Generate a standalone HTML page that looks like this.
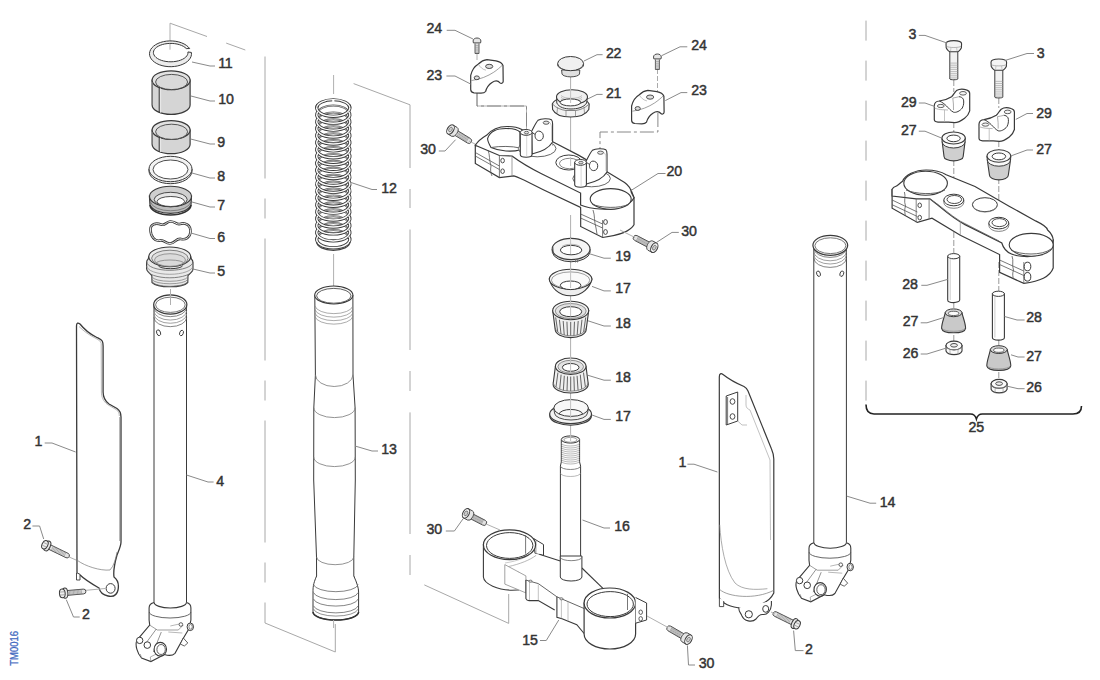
<!DOCTYPE html>
<html><head><meta charset="utf-8"><style>
html,body{margin:0;padding:0;background:#fff;}
body{width:1100px;height:680px;overflow:hidden;}
svg{display:block;}
text{font-family:"Liberation Sans",sans-serif;font-size:14.2px;font-weight:normal;letter-spacing:-0.2px;fill:#333333;stroke:#333333;stroke-width:0.45px;}
.ld{fill:none;stroke:#8a8a8a;stroke-width:1;}
.br{fill:none;stroke:#a8a8a8;stroke-width:1;}
.ax{fill:none;stroke:#b0b0b0;stroke-width:1;}
</style></head><body>
<svg width="1100" height="680" viewBox="0 0 1100 680">
<rect width="1100" height="680" fill="#fff"/>
<path d="M170,23.2 L207,36.5" class="br"/>
<path d="M226.2,43.1 L245.3,50" class="br"/>
<path d="M265,56.5 L265,178.5" class="br"/>
<path d="M265,198.5 L265,218.5" class="br"/>
<path d="M265,238.5 L265,360.5" class="br"/>
<path d="M265,380.5 L265,400.5" class="br"/>
<path d="M265,420.5 L265,542.5" class="br"/>
<path d="M265,562.5 L265,582.5" class="br"/>
<path d="M265,602.5 L265,623 L335.3,652 L335.3,624" class="br"/>
<path d="M353.6,83.6 L410,104.8 L410,168" class="br"/>
<path d="M410,189 L410,208" class="br"/>
<path d="M410,229.5 L410,350" class="br"/>
<path d="M410,371 L410,391" class="br"/>
<path d="M410,412.4 L410,534" class="br"/>
<path d="M410,555 L410,575" class="br"/>
<path d="M424.3,584.9 L508.7,623.4 L508.7,594" class="br"/>
<path d="M866,20.6 L866,40.6" class="br"/>
<path d="M866,60.6 L866,80.6" class="br"/>
<path d="M866,100.6 L866,120.6" class="br"/>
<path d="M866,140.6 L866,160.6" class="br"/>
<path d="M866,180.6 L866,200.6" class="br"/>
<path d="M866,220.6 L866,240.6" class="br"/>
<path d="M866,260.6 L866,280.6" class="br"/>
<path d="M866,300.6 L866,320.6" class="br"/>
<path d="M866,340.6 L866,360.6" class="br"/>
<path d="M866,380.6 L866,400.6" class="br"/>
<path d="M866,404.6 Q866,414 874,414 L970.5,414 Q975,414 976.4,419 Q977.8,414 982.3,414 L1073,414 Q1081.5,414 1081.5,406" fill="none" stroke="#222" stroke-width="1.6" />
<path d="M170,23.2 L170,49.7" class="ax"/>
<path d="M170.5,289 L170.5,304" class="ax"/>
<path d="M333.6,75 L333.6,94" class="ax"/>
<path d="M333.6,254 L333.6,297.7" class="ax"/>
<path d="M191.38,52.45 L191.48,54.37 L191.11,56.28 L190.28,58.14 L189.01,59.90 L187.33,61.52 L185.27,62.97 L182.89,64.22 L180.23,65.23 L177.35,65.99 L174.33,66.48 L171.21,66.69 L168.09,66.61 L165.01,66.25 L162.06,65.61 L159.29,64.71 L156.78,63.57 L154.57,62.20 L152.71,60.66 L151.25,58.95 L150.22,57.14 L149.63,55.25 L149.51,53.33 L149.86,51.42 L150.67,49.56 L151.92,47.79 L153.58,46.16 L155.61,44.70 L157.98,43.44 L160.62,42.42 L163.49,41.64 L166.51,41.13 L169.62,40.91 L172.75,40.97 L175.83,41.32 L178.79,41.95 L181.57,42.84 L184.10,43.97 L186.32,45.32 L188.20,46.86 L189.68,48.55 L186.25,48.57 L184.97,47.40 L183.37,46.34 L181.50,45.42 L179.40,44.65 L177.11,44.05 L174.68,43.65 L172.16,43.43 L169.61,43.42 L167.09,43.60 L164.64,43.98 L162.33,44.55 L160.19,45.29 L158.29,46.19 L156.65,47.23 L155.32,48.39 L154.32,49.64 L153.68,50.95 L153.41,52.29 L153.51,53.65 L153.99,54.98 L154.83,56.26 L156.01,57.46 L157.52,58.56 L159.30,59.52 L161.34,60.34 L163.58,60.98 L165.98,61.45 L168.47,61.72 L171.02,61.80 L173.56,61.67 L176.03,61.35 L178.39,60.84 L180.59,60.15 L182.56,59.30 L184.29,58.30 L185.71,57.17 L186.81,55.95 L187.56,54.65 L187.95,53.31 L187.96,51.96 Z" fill="#ececec" stroke="#3a3a3a" stroke-width="1.0" />
<path d="M152.1,80.2 L152.1,105.0 A19.0,9.4 0 0 0 190.1,105.0 L190.1,80.2 Z" fill="#d5d5d5" stroke="#3a3a3a" stroke-width="1.2"/>
<ellipse cx="171.1" cy="80.2" rx="19.0" ry="9.4" fill="#e2e2e2" stroke="#3a3a3a" stroke-width="1.2" />
<ellipse cx="171.6" cy="82.0" rx="16.0" ry="7.6" fill="#d9d9d9" stroke="#444" stroke-width="0.9" />
<path d="M159.2,87.7 L159.2,112.5" fill="none" stroke="#333" stroke-width="1.0" />
<path d="M160.6,88.2 L160.6,112.8" fill="none" stroke="#eee" stroke-width="0.8" />
<path d="M152.3,82.2 L152.3,105.0" fill="none" stroke="#999" stroke-width="0.5" />
<path d="M152.1,130.0 L152.1,144.3 A19.0,9.4 0 0 0 190.1,144.3 L190.1,130.0 Z" fill="#d5d5d5" stroke="#3a3a3a" stroke-width="1.2"/>
<ellipse cx="171.1" cy="130.0" rx="19.0" ry="9.4" fill="#e2e2e2" stroke="#3a3a3a" stroke-width="1.2" />
<ellipse cx="171.6" cy="131.8" rx="16.0" ry="7.6" fill="#d9d9d9" stroke="#444" stroke-width="0.9" />
<path d="M159.2,137.5 L159.2,151.8" fill="none" stroke="#333" stroke-width="1.0" />
<path d="M160.6,138.0 L160.6,152.10000000000002" fill="none" stroke="#eee" stroke-width="0.8" />
<path d="M152.3,132.0 L152.3,144.3" fill="none" stroke="#999" stroke-width="0.5" />
<path d="M149,169 L149,171 A21.5,12.7 0 0 0 192,171 L192,169" fill="#eee" stroke="#3a3a3a" stroke-width="1" />
<ellipse cx="170.5" cy="169" rx="21.5" ry="12.7" fill="#f2f2f2" stroke="#3a3a3a" stroke-width="1" />
<ellipse cx="170.5" cy="169.5" rx="17.5" ry="9.5" fill="#fff" stroke="#3a3a3a" stroke-width="0.9" />
<path d="M149.4,196 L150,205 A20.8,10 0 0 0 191,205 L191.5,196 Z" fill="#bdbdbd" stroke="#3a3a3a" stroke-width="1.2" />
<ellipse cx="170.5" cy="196.5" rx="21" ry="10.2" fill="#cfcfcf" stroke="#3a3a3a" stroke-width="1.1" />
<ellipse cx="170.7" cy="199.5" rx="16.5" ry="7.2" fill="#e6e6e6" stroke="#3a3a3a" stroke-width="0.9" />
<ellipse cx="170.8" cy="201.5" rx="13.7" ry="5" fill="#fff" stroke="#3a3a3a" stroke-width="0.9" />
<path d="M150,205 A20.5,10 0 0 0 191,205" fill="none" stroke="#333" stroke-width="1.6" />
<path d="M150.5,202 A20.3,10 0 0 0 190.8,202" fill="none" stroke="#666" stroke-width="0.7" />
<path d="M150.5,230 C150,224 156,222.5 161,224.5 C165,226 166,222 170,221.5 C175,221 176,225 180,224 C185,222 191,225 190.5,232 C190,238 185,240 181,239 C176,238 175,243.5 170,243.5 C165,243.5 164,239.5 160,240.5 C155,242 150.5,236 150.5,230 Z" fill="none" stroke="#3a3a3a" stroke-width="2.6" />
<path d="M150.5,230 C150,224 156,222.5 161,224.5 C165,226 166,222 170,221.5 C175,221 176,225 180,224 C185,222 191,225 190.5,232 C190,238 185,240 181,239 C176,238 175,243.5 170,243.5 C165,243.5 164,239.5 160,240.5 C155,242 150.5,236 150.5,230 Z" fill="none" stroke="#eaeaea" stroke-width="1.0" />
<path d="M148.8,256.5 L148.2,259 C147,260 146.6,261 146.6,262.5 L146.6,269 C147,271 149,273 151.8,275.5 L152,282.5 C155,285.5 162,286.8 170,286.8 C178,286.8 185,285.5 187.8,282.5 L188,275.5 C191,273 193,271 193,269 L193,262.5 C193,261 192.5,260 191.4,259 L190.7,256.5 Z" fill="#e9e9e9" stroke="#3a3a3a" stroke-width="1.1" />
<path d="M146.8,262 A23,8.3 0 0 0 192.8,262" fill="none" stroke="#666" stroke-width="0.8" />
<path d="M146.8,266 A23,8.3 0 0 0 192.8,266" fill="none" stroke="#888" stroke-width="0.7" />
<path d="M146.8,269.5 A23,8.3 0 0 0 192.8,269.5" fill="none" stroke="#666" stroke-width="0.8" />
<path d="M152.2,277 A17.8,4.8 0 0 0 187.6,277" fill="none" stroke="#777" stroke-width="0.7" />
<path d="M152.2,279.5 A17.8,4.8 0 0 0 187.6,279.5" fill="none" stroke="#777" stroke-width="0.7" />
<path d="M152.2,282 A17.8,4.8 0 0 0 187.6,282" fill="none" stroke="#777" stroke-width="0.7" />
<ellipse cx="169.75" cy="256.8" rx="20.95" ry="9.8" fill="#ececec" stroke="#3a3a3a" stroke-width="1.1" />
<ellipse cx="169.9" cy="258.2" rx="18.3" ry="8.0" fill="#e0e0e0" stroke="#666" stroke-width="0.8" />
<ellipse cx="170" cy="260" rx="15.5" ry="6.3" fill="#dadada" stroke="#777" stroke-width="0.7" />
<path d="M158.4,265.5 A12.1,3.2 0 0 0 182.6,265.5" fill="none" stroke="#3a3a3a" stroke-width="1" />
<path d="M156,263.5 A14,3.5 0 0 1 184,263.5" fill="none" stroke="#777" stroke-width="0.7" />
<path d="M154,304 L154,602.5 A16.25,5.5 0 0 0 186.5,602.5 L186.5,304" fill="#fff" stroke="#3a3a3a" stroke-width="1" />
<path d="M153.9,307.3 A16.3,9.3 0 0 0 186.7,307.3" fill="none" stroke="#666" stroke-width="0.8" />
<path d="M153.9,310.7 A16.3,9.3 0 0 0 186.7,310.7" fill="none" stroke="#888" stroke-width="0.8" />
<path d="M153.9,313.9 A16.3,9.3 0 0 0 186.7,313.9" fill="none" stroke="#888" stroke-width="0.8" />
<path d="M153.9,317.3 A16.3,9.3 0 0 0 186.7,317.3" fill="none" stroke="#666" stroke-width="0.8" />
<ellipse cx="170.3" cy="304.5" rx="16.6" ry="9.6" fill="#fafafa" stroke="#3a3a3a" stroke-width="1.2" />
<ellipse cx="170.4" cy="304.8" rx="14.8" ry="7.6" fill="#fff" stroke="#555" stroke-width="0.8" />
<ellipse cx="158.7" cy="332.6" rx="1.9" ry="3" fill="#fff" stroke="#3a3a3a" stroke-width="0.9" transform="rotate(-20 159 333)"/>
<ellipse cx="181.5" cy="333" rx="1.8" ry="2.8" fill="#fff" stroke="#3a3a3a" stroke-width="0.9" transform="rotate(20 181.5 333)"/>
<path d="M154.2,602.5 C151.8,603.0 149.1,605.0 149.1,608.0 L149.1,620.0 L149.7,625.1 L136.8,640.4 C134.8,645.0 137.3,653.0 141.5,658.0 L150.9,661.6 L164.4,654.5 C169.3,656.0 173.3,655.0 175.0,653.3 L182.7,639.2 L189.1,628.6 L190.9,620.0 L190.9,608.0 C190.9,605.0 188.8,603.0 186.4,602.5 Z" fill="#fff" stroke="none" stroke-width="0" />
<path d="M154.2,602.5 C151.8,603.0 149.1,605.0 149.1,608.0 L149.1,620.0 L149.7,625.1 L136.8,640.4 C134.8,645.0 137.3,653.0 141.5,658.0 L150.9,661.6 L164.4,654.5 C169.3,656.0 173.3,655.0 175.0,653.3 L182.7,639.2 L189.1,628.6 L190.9,620.0 L190.9,608.0 C190.9,605.0 188.8,603.0 186.4,602.5" fill="none" stroke="#3a3a3a" stroke-width="1.1" />
<path d="M149.3,612.0 A20.75,6 0 0 0 190.8,612.0" fill="none" stroke="#555" stroke-width="0.9" />
<path d="M149.7,625.1 L157.3,630.0 L178.3,630.0 L183.3,625.0" fill="none" stroke="#777" stroke-width="0.7" />
<path d="M156.3,629.0 L145.3,644.0 M161.3,632.0 L153.3,652.0" fill="none" stroke="#666" stroke-width="0.7" />
<path d="M170.3,626.0 L179.3,624.0 M168.3,632.0 L182.3,633.0" fill="none" stroke="#888" stroke-width="0.6" />
<path d="M141.5,658.0 L140.3,654.0 M150.9,661.6 L150.3,657.0 L162.3,651.0" fill="none" stroke="#777" stroke-width="0.6" />
<ellipse cx="139.70000000000002" cy="640.4" rx="3.2" ry="3.2" fill="#fff" stroke="#3a3a3a" stroke-width="1" />
<ellipse cx="147.3" cy="645.1" rx="3.3" ry="3.3" fill="#fff" stroke="#3a3a3a" stroke-width="1" />
<ellipse cx="160.3" cy="649.2" rx="6.2" ry="6.8" fill="#fff" stroke="#3a3a3a" stroke-width="1.1" />
<ellipse cx="161.10000000000002" cy="649.5" rx="4.2" ry="5" fill="#fff" stroke="#3a3a3a" stroke-width="0.8" />
<ellipse cx="190.3" cy="626.8" rx="3.2" ry="3.8" fill="#fff" stroke="#3a3a3a" stroke-width="1" />
<ellipse cx="190.60000000000002" cy="626.8" rx="1.7" ry="2.4" fill="#fff" stroke="#555" stroke-width="0.7" />
<ellipse cx="180.9" cy="624.5" rx="1.8" ry="1.8" fill="#fff" stroke="#3a3a3a" stroke-width="0.8" />
<path d="M180.3,644.0 L183.3,638.0 L187.8,643.0 L184.3,646.0 Z" fill="#fff" stroke="#3a3a3a" stroke-width="0.8" />
<path d="M154.20000000000002,602.5 A16.1,5.5 0 0 0 186.4,602.5" fill="none" stroke="#3a3a3a" stroke-width="1.1" />
<path d="M76.5,326 C76.5,322.5 78,322.5 80,324 C84,329 90,334 96,337 C99,338.5 101,339 102.2,341 C103,342.5 103.1,344 103.1,346 L103.1,392 C103.1,397 105,401 109,404 L117,408.5 C120,410.5 121,413 121,417 L121,542 C121,546 119,550 117,555 C115,562 113,570 114,577 C118,580 119,585 118,590 C117,595 113,597 108,596 C103,595 100,592 99,588 C92,584 85,580 79,574 L77,573 Z" fill="#fff" stroke="#3a3a3a" stroke-width="1.3" />
<path d="M79,326.5 C84,331.5 90,335.5 96,338.5 C99,340 100.5,341 101.2,343.5 L101.4,392 C101.5,397 103,401 107.5,404.5 L116,409.5 C118.5,411 119.3,413 119.3,416" fill="none" stroke="#999" stroke-width="0.7" />
<path d="M119.5,417 L119.5,541" fill="none" stroke="#888" stroke-width="0.6" />
<path d="M77.7,560.6 C85,566 100,571 110,570 C114,566 116,558 117,552" fill="none" stroke="#777" stroke-width="0.7" />
<path d="M76.5,573 L76.5,580 L80,580 L80,575" fill="#fff" stroke="#3a3a3a" stroke-width="0.9" />
<ellipse cx="110.6" cy="588.4" rx="4.5" ry="4.8" fill="#fff" stroke="#3a3a3a" stroke-width="1" />
<path d="M68,556.5 L76,560" class="ax"/>
<path d="M84,590.5 L105,588.5" class="ax"/>
<path d="M44.95,547.46 L65.95,557.66 A2.4,2.4 0 0 0 68.05,553.34 L47.05,543.14 Z" fill="#e4e4e4" stroke="#3a3a3a" stroke-width="0.9" />
<path d="M51.25,550.52 L53.35,546.20" fill="none" stroke="#888" stroke-width="0.6" />
<path d="M52.51,551.13 L54.61,546.81" fill="none" stroke="#888" stroke-width="0.6" />
<path d="M53.77,551.74 L55.87,547.43" fill="none" stroke="#888" stroke-width="0.6" />
<path d="M55.03,552.35 L57.13,548.04" fill="none" stroke="#888" stroke-width="0.6" />
<path d="M56.29,552.97 L58.39,548.65" fill="none" stroke="#888" stroke-width="0.6" />
<path d="M57.55,553.58 L59.65,549.26" fill="none" stroke="#888" stroke-width="0.6" />
<path d="M58.81,554.19 L60.91,549.87" fill="none" stroke="#888" stroke-width="0.6" />
<path d="M60.07,554.80 L62.17,550.49" fill="none" stroke="#888" stroke-width="0.6" />
<path d="M61.33,555.41 L63.43,551.10" fill="none" stroke="#888" stroke-width="0.6" />
<path d="M62.59,556.03 L64.69,551.71" fill="none" stroke="#888" stroke-width="0.6" />
<path d="M63.85,556.64 L65.95,552.32" fill="none" stroke="#888" stroke-width="0.6" />
<ellipse cx="47.349262237864" cy="545.9553559441053" rx="2.8600000000000003" ry="5.2" fill="#e8e8e8" stroke="#3a3a3a" stroke-width="1" transform="rotate(25.9 47.35 545.96)"/>
<ellipse cx="44.920590209708806" cy="544.7757152447157" rx="2.8600000000000003" ry="4.42" fill="#efefef" stroke="#3a3a3a" stroke-width="1" transform="rotate(25.9 44.92 544.78)"/>
<path d="M42.20,545.12 L46.24,547.09 M43.51,542.42 L47.55,544.39" fill="none" stroke="#777" stroke-width="0.6" />
<path d="M63.72,595.69 L83.72,593.89 A2.4,2.4 0 0 0 83.28,589.11 L63.28,590.91 Z" fill="#e4e4e4" stroke="#3a3a3a" stroke-width="0.9" />
<path d="M69.72,595.15 L69.28,590.37" fill="none" stroke="#888" stroke-width="0.6" />
<path d="M71.04,595.03 L70.60,590.25" fill="none" stroke="#888" stroke-width="0.6" />
<path d="M72.36,594.91 L71.92,590.13" fill="none" stroke="#888" stroke-width="0.6" />
<path d="M73.68,594.79 L73.24,590.01" fill="none" stroke="#888" stroke-width="0.6" />
<path d="M75.00,594.68 L74.56,589.89" fill="none" stroke="#888" stroke-width="0.6" />
<path d="M76.32,594.56 L75.88,589.78" fill="none" stroke="#888" stroke-width="0.6" />
<path d="M77.64,594.44 L77.20,589.66" fill="none" stroke="#888" stroke-width="0.6" />
<path d="M78.96,594.32 L78.52,589.54" fill="none" stroke="#888" stroke-width="0.6" />
<path d="M80.28,594.20 L79.84,589.42" fill="none" stroke="#888" stroke-width="0.6" />
<path d="M81.60,594.08 L81.16,589.30" fill="none" stroke="#888" stroke-width="0.6" />
<ellipse cx="64.99396165826484" cy="593.1655434507561" rx="2.8600000000000003" ry="5.2" fill="#e8e8e8" stroke="#3a3a3a" stroke-width="1" transform="rotate(-5.1 64.99 593.17)"/>
<ellipse cx="62.304830673388125" cy="593.407565239395" rx="2.8600000000000003" ry="4.42" fill="#efefef" stroke="#3a3a3a" stroke-width="1" transform="rotate(-5.1 62.30 593.41)"/>
<path d="M60.15,595.11 L64.63,594.70 M59.88,592.12 L64.36,591.72" fill="none" stroke="#777" stroke-width="0.6" />
<path d="M170.5,289 L170.5,305" class="ax"/>
<path d="M318.20,112.96 A15.100000000000001,7.500000000000001 0 0 1 348.40,112.96" fill="none" stroke="#5a5a5a" stroke-width="2.0" />
<path d="M318.20,112.96 A15.100000000000001,7.500000000000001 0 0 1 348.40,112.96" fill="none" stroke="#f0f0f0" stroke-width="0.6" />
<path d="M318.20,119.88 A15.100000000000001,7.500000000000001 0 0 1 348.40,119.88" fill="none" stroke="#5a5a5a" stroke-width="2.0" />
<path d="M318.20,119.88 A15.100000000000001,7.500000000000001 0 0 1 348.40,119.88" fill="none" stroke="#f0f0f0" stroke-width="0.6" />
<path d="M318.20,126.80 A15.100000000000001,7.500000000000001 0 0 1 348.40,126.80" fill="none" stroke="#5a5a5a" stroke-width="2.0" />
<path d="M318.20,126.80 A15.100000000000001,7.500000000000001 0 0 1 348.40,126.80" fill="none" stroke="#f0f0f0" stroke-width="0.6" />
<path d="M318.20,133.72 A15.100000000000001,7.500000000000001 0 0 1 348.40,133.72" fill="none" stroke="#5a5a5a" stroke-width="2.0" />
<path d="M318.20,133.72 A15.100000000000001,7.500000000000001 0 0 1 348.40,133.72" fill="none" stroke="#f0f0f0" stroke-width="0.6" />
<path d="M318.20,140.64 A15.100000000000001,7.500000000000001 0 0 1 348.40,140.64" fill="none" stroke="#5a5a5a" stroke-width="2.0" />
<path d="M318.20,140.64 A15.100000000000001,7.500000000000001 0 0 1 348.40,140.64" fill="none" stroke="#f0f0f0" stroke-width="0.6" />
<path d="M318.20,147.57 A15.100000000000001,7.500000000000001 0 0 1 348.40,147.57" fill="none" stroke="#5a5a5a" stroke-width="2.0" />
<path d="M318.20,147.57 A15.100000000000001,7.500000000000001 0 0 1 348.40,147.57" fill="none" stroke="#f0f0f0" stroke-width="0.6" />
<path d="M318.20,154.49 A15.100000000000001,7.500000000000001 0 0 1 348.40,154.49" fill="none" stroke="#5a5a5a" stroke-width="2.0" />
<path d="M318.20,154.49 A15.100000000000001,7.500000000000001 0 0 1 348.40,154.49" fill="none" stroke="#f0f0f0" stroke-width="0.6" />
<path d="M318.20,161.41 A15.100000000000001,7.500000000000001 0 0 1 348.40,161.41" fill="none" stroke="#5a5a5a" stroke-width="2.0" />
<path d="M318.20,161.41 A15.100000000000001,7.500000000000001 0 0 1 348.40,161.41" fill="none" stroke="#f0f0f0" stroke-width="0.6" />
<path d="M318.20,168.33 A15.100000000000001,7.500000000000001 0 0 1 348.40,168.33" fill="none" stroke="#5a5a5a" stroke-width="2.0" />
<path d="M318.20,168.33 A15.100000000000001,7.500000000000001 0 0 1 348.40,168.33" fill="none" stroke="#f0f0f0" stroke-width="0.6" />
<path d="M318.20,175.25 A15.100000000000001,7.500000000000001 0 0 1 348.40,175.25" fill="none" stroke="#5a5a5a" stroke-width="2.0" />
<path d="M318.20,175.25 A15.100000000000001,7.500000000000001 0 0 1 348.40,175.25" fill="none" stroke="#f0f0f0" stroke-width="0.6" />
<path d="M318.20,182.17 A15.100000000000001,7.500000000000001 0 0 1 348.40,182.17" fill="none" stroke="#5a5a5a" stroke-width="2.0" />
<path d="M318.20,182.17 A15.100000000000001,7.500000000000001 0 0 1 348.40,182.17" fill="none" stroke="#f0f0f0" stroke-width="0.6" />
<path d="M318.20,189.09 A15.100000000000001,7.500000000000001 0 0 1 348.40,189.09" fill="none" stroke="#5a5a5a" stroke-width="2.0" />
<path d="M318.20,189.09 A15.100000000000001,7.500000000000001 0 0 1 348.40,189.09" fill="none" stroke="#f0f0f0" stroke-width="0.6" />
<path d="M318.20,196.01 A15.100000000000001,7.500000000000001 0 0 1 348.40,196.01" fill="none" stroke="#5a5a5a" stroke-width="2.0" />
<path d="M318.20,196.01 A15.100000000000001,7.500000000000001 0 0 1 348.40,196.01" fill="none" stroke="#f0f0f0" stroke-width="0.6" />
<path d="M318.20,202.93 A15.100000000000001,7.500000000000001 0 0 1 348.40,202.93" fill="none" stroke="#5a5a5a" stroke-width="2.0" />
<path d="M318.20,202.93 A15.100000000000001,7.500000000000001 0 0 1 348.40,202.93" fill="none" stroke="#f0f0f0" stroke-width="0.6" />
<path d="M318.20,209.86 A15.100000000000001,7.500000000000001 0 0 1 348.40,209.86" fill="none" stroke="#5a5a5a" stroke-width="2.0" />
<path d="M318.20,209.86 A15.100000000000001,7.500000000000001 0 0 1 348.40,209.86" fill="none" stroke="#f0f0f0" stroke-width="0.6" />
<path d="M318.20,216.78 A15.100000000000001,7.500000000000001 0 0 1 348.40,216.78" fill="none" stroke="#5a5a5a" stroke-width="2.0" />
<path d="M318.20,216.78 A15.100000000000001,7.500000000000001 0 0 1 348.40,216.78" fill="none" stroke="#f0f0f0" stroke-width="0.6" />
<path d="M318.20,223.70 A15.100000000000001,7.500000000000001 0 0 1 348.40,223.70" fill="none" stroke="#5a5a5a" stroke-width="2.0" />
<path d="M318.20,223.70 A15.100000000000001,7.500000000000001 0 0 1 348.40,223.70" fill="none" stroke="#f0f0f0" stroke-width="0.6" />
<path d="M318.20,230.62 A15.100000000000001,7.500000000000001 0 0 1 348.40,230.62" fill="none" stroke="#5a5a5a" stroke-width="2.0" />
<path d="M318.20,230.62 A15.100000000000001,7.500000000000001 0 0 1 348.40,230.62" fill="none" stroke="#f0f0f0" stroke-width="0.6" />
<path d="M318.20,237.54 A15.100000000000001,7.500000000000001 0 0 1 348.40,237.54" fill="none" stroke="#5a5a5a" stroke-width="2.0" />
<path d="M318.20,237.54 A15.100000000000001,7.500000000000001 0 0 1 348.40,237.54" fill="none" stroke="#f0f0f0" stroke-width="0.6" />
<path d="M348.69,104.89 A16.6,8.3 0 1 1 317.91,104.89" fill="none" stroke="#3a3a3a" stroke-width="3.3" />
<path d="M348.69,104.89 A16.6,8.3 0 1 1 317.91,104.89" fill="none" stroke="#fbfbfb" stroke-width="1.5" />
<path d="M348.69,111.81 A16.6,8.3 0 1 1 317.91,111.81" fill="none" stroke="#3a3a3a" stroke-width="3.3" />
<path d="M348.69,111.81 A16.6,8.3 0 1 1 317.91,111.81" fill="none" stroke="#fbfbfb" stroke-width="1.5" />
<path d="M348.69,118.73 A16.6,8.3 0 1 1 317.91,118.73" fill="none" stroke="#3a3a3a" stroke-width="3.3" />
<path d="M348.69,118.73 A16.6,8.3 0 1 1 317.91,118.73" fill="none" stroke="#fbfbfb" stroke-width="1.5" />
<path d="M348.69,125.65 A16.6,8.3 0 1 1 317.91,125.65" fill="none" stroke="#3a3a3a" stroke-width="3.3" />
<path d="M348.69,125.65 A16.6,8.3 0 1 1 317.91,125.65" fill="none" stroke="#fbfbfb" stroke-width="1.5" />
<path d="M348.69,132.57 A16.6,8.3 0 1 1 317.91,132.57" fill="none" stroke="#3a3a3a" stroke-width="3.3" />
<path d="M348.69,132.57 A16.6,8.3 0 1 1 317.91,132.57" fill="none" stroke="#fbfbfb" stroke-width="1.5" />
<path d="M348.69,139.50 A16.6,8.3 0 1 1 317.91,139.50" fill="none" stroke="#3a3a3a" stroke-width="3.3" />
<path d="M348.69,139.50 A16.6,8.3 0 1 1 317.91,139.50" fill="none" stroke="#fbfbfb" stroke-width="1.5" />
<path d="M348.69,146.42 A16.6,8.3 0 1 1 317.91,146.42" fill="none" stroke="#3a3a3a" stroke-width="3.3" />
<path d="M348.69,146.42 A16.6,8.3 0 1 1 317.91,146.42" fill="none" stroke="#fbfbfb" stroke-width="1.5" />
<path d="M348.69,153.34 A16.6,8.3 0 1 1 317.91,153.34" fill="none" stroke="#3a3a3a" stroke-width="3.3" />
<path d="M348.69,153.34 A16.6,8.3 0 1 1 317.91,153.34" fill="none" stroke="#fbfbfb" stroke-width="1.5" />
<path d="M348.69,160.26 A16.6,8.3 0 1 1 317.91,160.26" fill="none" stroke="#3a3a3a" stroke-width="3.3" />
<path d="M348.69,160.26 A16.6,8.3 0 1 1 317.91,160.26" fill="none" stroke="#fbfbfb" stroke-width="1.5" />
<path d="M348.69,167.18 A16.6,8.3 0 1 1 317.91,167.18" fill="none" stroke="#3a3a3a" stroke-width="3.3" />
<path d="M348.69,167.18 A16.6,8.3 0 1 1 317.91,167.18" fill="none" stroke="#fbfbfb" stroke-width="1.5" />
<path d="M348.69,174.10 A16.6,8.3 0 1 1 317.91,174.10" fill="none" stroke="#3a3a3a" stroke-width="3.3" />
<path d="M348.69,174.10 A16.6,8.3 0 1 1 317.91,174.10" fill="none" stroke="#fbfbfb" stroke-width="1.5" />
<path d="M348.69,181.02 A16.6,8.3 0 1 1 317.91,181.02" fill="none" stroke="#3a3a3a" stroke-width="3.3" />
<path d="M348.69,181.02 A16.6,8.3 0 1 1 317.91,181.02" fill="none" stroke="#fbfbfb" stroke-width="1.5" />
<path d="M348.69,187.94 A16.6,8.3 0 1 1 317.91,187.94" fill="none" stroke="#3a3a3a" stroke-width="3.3" />
<path d="M348.69,187.94 A16.6,8.3 0 1 1 317.91,187.94" fill="none" stroke="#fbfbfb" stroke-width="1.5" />
<path d="M348.69,194.86 A16.6,8.3 0 1 1 317.91,194.86" fill="none" stroke="#3a3a3a" stroke-width="3.3" />
<path d="M348.69,194.86 A16.6,8.3 0 1 1 317.91,194.86" fill="none" stroke="#fbfbfb" stroke-width="1.5" />
<path d="M348.69,201.79 A16.6,8.3 0 1 1 317.91,201.79" fill="none" stroke="#3a3a3a" stroke-width="3.3" />
<path d="M348.69,201.79 A16.6,8.3 0 1 1 317.91,201.79" fill="none" stroke="#fbfbfb" stroke-width="1.5" />
<path d="M348.69,208.71 A16.6,8.3 0 1 1 317.91,208.71" fill="none" stroke="#3a3a3a" stroke-width="3.3" />
<path d="M348.69,208.71 A16.6,8.3 0 1 1 317.91,208.71" fill="none" stroke="#fbfbfb" stroke-width="1.5" />
<path d="M348.69,215.63 A16.6,8.3 0 1 1 317.91,215.63" fill="none" stroke="#3a3a3a" stroke-width="3.3" />
<path d="M348.69,215.63 A16.6,8.3 0 1 1 317.91,215.63" fill="none" stroke="#fbfbfb" stroke-width="1.5" />
<path d="M348.69,222.55 A16.6,8.3 0 1 1 317.91,222.55" fill="none" stroke="#3a3a3a" stroke-width="3.3" />
<path d="M348.69,222.55 A16.6,8.3 0 1 1 317.91,222.55" fill="none" stroke="#fbfbfb" stroke-width="1.5" />
<path d="M348.69,229.47 A16.6,8.3 0 1 1 317.91,229.47" fill="none" stroke="#3a3a3a" stroke-width="3.3" />
<path d="M348.69,229.47 A16.6,8.3 0 1 1 317.91,229.47" fill="none" stroke="#fbfbfb" stroke-width="1.5" />
<path d="M348.69,236.39 A16.6,8.3 0 1 1 317.91,236.39" fill="none" stroke="#3a3a3a" stroke-width="3.3" />
<path d="M348.69,236.39 A16.6,8.3 0 1 1 317.91,236.39" fill="none" stroke="#fbfbfb" stroke-width="1.5" />
<path d="M316.70,108.00 A16.6,8.3 0 0 1 349.90,108.00" fill="none" stroke="#3a3a3a" stroke-width="3.0" />
<path d="M316.70,108.00 A16.6,8.3 0 0 1 349.90,108.00" fill="none" stroke="#fafafa" stroke-width="1.2" />
<path d="M316.70,242.00 A16.6,8.3 0 0 0 349.90,242.00" fill="none" stroke="#444" stroke-width="1.2" />
<path d="M333.3,99 L333.3,103" fill="none" stroke="#fff" stroke-width="2.2" />
<path d="M314.8,295 L315.4,375 L313.8,408 L313.7,480 L316.5,557 L316.6,578 L353.8,578 L353.8,557 L355.3,480 L355.1,408 L353,375 L352.9,295 Z" fill="#fff" stroke="none" stroke-width="0" />
<path d="M314.8,295 L315.4,375 L313.8,408 L313.7,480 L316.5,557 L316.6,578 M353.8,578 L353.8,557 L355.3,480 L355.1,408 L353,375 L352.9,295" fill="none" stroke="#3a3a3a" stroke-width="1" />
<path d="M315.4,374.7 A18.80,11.80 0 0 0 353,374.7" fill="none" stroke="#777" stroke-width="0.8" />
<path d="M313.8,407.7 A20.65,9.90 0 0 0 355.1,407.7" fill="none" stroke="#777" stroke-width="0.8" />
<path d="M313.7,457 A20.80,9.60 0 0 0 355.3,457" fill="none" stroke="#777" stroke-width="0.8" />
<path d="M316.5,556.8 A18.65,7.90 0 0 0 353.8,556.8" fill="none" stroke="#777" stroke-width="0.8" />
<path d="M315,306 A19,8.5 0 0 0 352.8,306" fill="none" stroke="#888" stroke-width="0.7" />
<path d="M315,309.5 A19,8.5 0 0 0 352.8,309.5" fill="none" stroke="#888" stroke-width="0.7" />
<path d="M315,313 A19,8.5 0 0 0 352.8,313" fill="none" stroke="#888" stroke-width="0.7" />
<path d="M315,316.5 A19,8.5 0 0 0 352.8,316.5" fill="none" stroke="#888" stroke-width="0.7" />
<ellipse cx="333.8" cy="295" rx="19.1" ry="9" fill="#f8f8f8" stroke="#3a3a3a" stroke-width="1.1" />
<ellipse cx="333.8" cy="295.8" rx="17.2" ry="7.4" fill="#fff" stroke="#3a3a3a" stroke-width="0.8" />
<path d="M316.6,576 C313,584 313,588 313,592 L313,612 A22.8,8 0 0 0 358.6,612 L358.6,592 C358.6,588 357,583 353.8,576 Z" fill="#fff" stroke="none" stroke-width="0" />
<path d="M316.6,576 C313,584 313,588 313,592 L313,612 A22.8,8 0 0 0 358.6,612 L358.6,592 C358.6,588 357,583 353.8,576" fill="none" stroke="#3a3a3a" stroke-width="1" />
<path d="M313.5,584.6 A22.5,8 0 0 0 358.2,584.6" fill="none" stroke="#666" stroke-width="0.8" />
<path d="M313.5,592.5 A22.5,8 0 0 0 358.2,592.5" fill="none" stroke="#666" stroke-width="0.8" />
<path d="M313.5,599 A22.5,8 0 0 0 358.2,599" fill="none" stroke="#666" stroke-width="0.8" />
<path d="M313.5,605.8 A22.5,8 0 0 0 358.2,605.8" fill="none" stroke="#666" stroke-width="0.8" />
<path d="M313,612 A22.8,8 0 0 0 358.6,612" fill="none" stroke="#333" stroke-width="1.6" />
<path d="M313.5,609 A22.5,8 0 0 0 358.2,609" fill="none" stroke="#777" stroke-width="0.8" />
<path d="M333.6,620 L333.6,628" class="ax"/>
<path d="M477,53 L477,60" class="ax"/>
<path d="M477,93 L477,106 L526.5,106 L526.5,131" class="ax"/>
<path d="M477,93 L477,106 L526.5,106 L526.5,131" fill="none" stroke="#888" stroke-width="1" stroke-dasharray="14,3,3,3"/>
<path d="M657.5,69 L657.5,92" fill="none" stroke="#aaa" stroke-width="1" stroke-dasharray="5,2"/>
<path d="M657.9,113 L657.9,132 L600,132 L600,160" fill="none" stroke="#888" stroke-width="1" stroke-dasharray="14,3,3,3"/>
<path d="M570.6,77 L570.6,90" class="ax"/>
<path d="M570.6,117 L570.6,162" class="ax"/>
<path d="M570.6,215 L570.6,240" class="ax"/>
<path d="M570.6,262 L570.6,272" class="ax"/>
<path d="M570.6,295 L570.6,303" class="ax"/>
<path d="M570.6,338 L570.6,362" class="ax"/>
<path d="M570.6,393 L570.6,402" class="ax"/>
<path d="M570.6,425 L570.6,440" class="ax"/>
<path d="M475,43.5 L475,53.5 L479,53.5 L479,43.5" fill="#dcdcdc" stroke="#3a3a3a" stroke-width="0.8" />
<path d="M475,45.5 L479,45.5" fill="none" stroke="#888" stroke-width="0.5" />
<path d="M475,47.3 L479,47.3" fill="none" stroke="#888" stroke-width="0.5" />
<path d="M475,49.1 L479,49.1" fill="none" stroke="#888" stroke-width="0.5" />
<path d="M475,50.9 L479,50.9" fill="none" stroke="#888" stroke-width="0.5" />
<path d="M475,52.7 L479,52.7" fill="none" stroke="#888" stroke-width="0.5" />
<path d="M473.1,41.0 C473.1,37.0 480.9,37.0 480.9,41.0 L480.6,42.9 L473.4,42.9 Z" fill="#e6e6e6" stroke="#3a3a3a" stroke-width="0.9" />
<path d="M655.4,59.5 L655.4,69.5 L659.4,69.5 L659.4,59.5" fill="#dcdcdc" stroke="#3a3a3a" stroke-width="0.8" />
<path d="M655.4,61.5 L659.4,61.5" fill="none" stroke="#888" stroke-width="0.5" />
<path d="M655.4,63.3 L659.4,63.3" fill="none" stroke="#888" stroke-width="0.5" />
<path d="M655.4,65.1 L659.4,65.1" fill="none" stroke="#888" stroke-width="0.5" />
<path d="M655.4,66.9 L659.4,66.9" fill="none" stroke="#888" stroke-width="0.5" />
<path d="M655.4,68.7 L659.4,68.7" fill="none" stroke="#888" stroke-width="0.5" />
<path d="M653.5,57.0 C653.5,53.0 661.3,53.0 661.3,57.0 L661.0,58.9 L653.8,58.9 Z" fill="#e6e6e6" stroke="#3a3a3a" stroke-width="0.9" />
<g transform="translate(0,0)">
<path d="M470.7,75.3 C472,70 475,66 478.4,64 C481,61.5 484,60 487,59.7 L496,60.9 C499,61.5 502,63 503,65.5 L503.2,81.4 C503,83.5 501,83.8 500,82.8 C498,80.5 495,80.5 492,82.5 C489,84.5 486.5,88 485.6,91.5 C484.5,93 482.5,93.2 481,93.2 L474,92.8 C472,92.5 470.7,91.2 470.7,89.5 Z" fill="#fff" stroke="#3a3a3a" stroke-width="1.2" />
<path d="M471.5,80.5 C480,79.5 488,76 493.8,72.2 C497,70 500,67.5 502,65.5" fill="none" stroke="#777" stroke-width="0.7" />
<path d="M478.4,64.3 C480,67 482.5,69.5 486,70.2" fill="none" stroke="#999" stroke-width="0.6" />
<ellipse cx="489.2" cy="66.4" rx="3.6" ry="2.1" fill="#ddd" stroke="#3a3a3a" stroke-width="0.9" />
<ellipse cx="476.8" cy="77.8" rx="2.6" ry="1.9" fill="#ddd" stroke="#3a3a3a" stroke-width="0.9" />
</g>
<g transform="translate(160.9,30.7)">
<path d="M470.7,75.3 C472,70 475,66 478.4,64 C481,61.5 484,60 487,59.7 L496,60.9 C499,61.5 502,63 503,65.5 L503.2,81.4 C503,83.5 501,83.8 500,82.8 C498,80.5 495,80.5 492,82.5 C489,84.5 486.5,88 485.6,91.5 C484.5,93 482.5,93.2 481,93.2 L474,92.8 C472,92.5 470.7,91.2 470.7,89.5 Z" fill="#fff" stroke="#3a3a3a" stroke-width="1.2" />
<path d="M471.5,80.5 C480,79.5 488,76 493.8,72.2 C497,70 500,67.5 502,65.5" fill="none" stroke="#777" stroke-width="0.7" />
<path d="M478.4,64.3 C480,67 482.5,69.5 486,70.2" fill="none" stroke="#999" stroke-width="0.6" />
<ellipse cx="489.2" cy="66.4" rx="3.6" ry="2.1" fill="#ddd" stroke="#3a3a3a" stroke-width="0.9" />
<ellipse cx="476.8" cy="77.8" rx="2.6" ry="1.9" fill="#ddd" stroke="#3a3a3a" stroke-width="0.9" />
</g>
<path d="M561.6,70 L562,74 A8.8,3.2 0 0 0 579.5,74 L579.8,70 Z" fill="#e0e0e0" stroke="#3a3a3a" stroke-width="0.9" />
<path d="M557.7,63.8 L557.9,66 C559,71 582,71 583.4,66 L583.6,63.8 Z" fill="#e8e8e8" stroke="#3a3a3a" stroke-width="0.9" />
<ellipse cx="570.6" cy="63.6" rx="12.95" ry="7.1" fill="#f0f0f0" stroke="#3a3a3a" stroke-width="1" />
<path d="M552.3,104 L552.6,109.5 C555,114.5 562,117 570.7,117 C579,117 586,114.5 588.8,109.5 L589.2,104 C587,100 583,99 580,98.5 L561,98.5 C558,99 554,100 552.3,104 Z" fill="#f2f2f2" stroke="#3a3a3a" stroke-width="1.1" />
<path d="M553,104.5 C556,108 562,110 566,110.5 L575.5,110.5 C580,110 585,108 588.6,104.5" fill="none" stroke="#666" stroke-width="0.8" />
<path d="M566,110.5 L566,116.6 M575.5,110.5 L575.5,116.6 M557.5,107.5 L557,113 M584,107.5 L584.5,113" fill="none" stroke="#777" stroke-width="0.7" />
<path d="M556.6,97 L556.8,103 C559,107.5 565,109 571,109 C577,109 584,107.5 586.6,103 L587.5,97 Z" fill="#f4f4f4" stroke="#3a3a3a" stroke-width="1" />
<ellipse cx="572" cy="97" rx="15.5" ry="7.3" fill="#f0f0f0" stroke="#3a3a3a" stroke-width="1.1" />
<path d="M561,95.5 A11.5,4.8 0 0 0 582,95.5" fill="none" stroke="#999" stroke-width="0.55" />
<path d="M561,97.3 A11.5,4.8 0 0 0 582,97.3" fill="none" stroke="#999" stroke-width="0.55" />
<path d="M561,99.1 A11.5,4.8 0 0 0 582,99.1" fill="none" stroke="#999" stroke-width="0.55" />
<ellipse cx="570.4" cy="102.4" rx="10.3" ry="3.5" fill="#fff" stroke="#3a3a3a" stroke-width="1" />
<path d="M449.09,131.80 L467.59,143.10 A2.7,2.7 0 0 0 470.41,138.50 L451.91,127.20 Z" fill="#e2e2e2" stroke="#3a3a3a" stroke-width="0.9" />
<path d="M456.86,136.55 L459.68,131.94" fill="none" stroke="#777" stroke-width="0.55" />
<path d="M457.88,137.17 L460.69,132.56" fill="none" stroke="#777" stroke-width="0.55" />
<path d="M458.90,137.79 L461.71,133.18" fill="none" stroke="#777" stroke-width="0.55" />
<path d="M459.92,138.41 L462.73,133.81" fill="none" stroke="#777" stroke-width="0.55" />
<path d="M460.93,139.04 L463.75,134.43" fill="none" stroke="#777" stroke-width="0.55" />
<path d="M461.95,139.66 L464.76,135.05" fill="none" stroke="#777" stroke-width="0.55" />
<path d="M462.97,140.28 L465.78,135.67" fill="none" stroke="#777" stroke-width="0.55" />
<path d="M463.99,140.90 L466.80,136.29" fill="none" stroke="#777" stroke-width="0.55" />
<path d="M465.00,141.52 L467.82,136.91" fill="none" stroke="#777" stroke-width="0.55" />
<path d="M466.02,142.14 L468.83,137.54" fill="none" stroke="#777" stroke-width="0.55" />
<path d="M447.79,133.94 L451.63,136.28 A3.12,5.2 31.4 0 0 457.05,127.41 L453.21,125.06 Z" fill="#e6e6e6" stroke="#3a3a3a" stroke-width="0.9" />
<ellipse cx="450.5" cy="129.5" rx="3.12" ry="5.2" fill="#f0f0f0" stroke="#3a3a3a" stroke-width="1" transform="rotate(31.4 450.5 129.5)"/>
<ellipse cx="450.5" cy="129.5" rx="1.56" ry="2.6" fill="#ccc" stroke="#555" stroke-width="0.6" transform="rotate(31.4 450.5 129.5)"/>
<path d="M469,141 L483,148" class="ax"/>
<path d="M475.3,145.3 L475.3,163.5 L499.4,177.6 L513.8,175.8 C518,177 521,179 524.4,180.3 L543.8,190 L580.6,207.5 L580.6,226.5 L602.6,237.5 C615,236 630,232 634,224.8 L634,197.7 L631,190 L600,172 L560,152 L515,150 Z" fill="#fff" stroke="#3a3a3a" stroke-width="1.2" />
<path d="M475.3,145.3 C478,141 482,138 486.5,135.3 C492,129 500,126.5 507,126.5 C514,126.5 519,128 521.8,129.6 L552.7,141.8 L578.9,155.4 L607.7,172.3 L624.6,182.5 C628,185 631,189 631.4,192.6 L634,197.7 C630,205 620,210 600,209 C590,208.5 583,206 580.6,205 L580.6,193 L542,174 C530,168 520,162 512,156 L499.4,155.5 Z" fill="#fff" stroke="#3a3a3a" stroke-width="1.2" />
<path d="M512,156 L512,176" fill="none" stroke="#777" stroke-width="0.7" />
<path d="M475.3,152.5 L499.4,166" fill="none" stroke="#555" stroke-width="0.8" />
<path d="M475.3,156 L499.4,169.5" fill="none" stroke="#555" stroke-width="0.8" />
<path d="M488,150 C490,155 489,160 491,166 C490,170 491,174 492,176" fill="none" stroke="#555" stroke-width="0.8" />
<path d="M499.4,155 L499.4,177.6" fill="none" stroke="#555" stroke-width="0.8" />
<ellipse cx="502.6" cy="160.6" rx="1.8" ry="2.3" fill="#fff" stroke="#3a3a3a" stroke-width="0.9" />
<ellipse cx="502.6" cy="171.2" rx="1.8" ry="2.3" fill="#fff" stroke="#3a3a3a" stroke-width="0.9" />
<path d="M487.6,138.5 C490,131 498,128.5 506,128.5 C513,128.5 518,130 520,132 L520,150 C512,152 500,151.5 491,147.5 C489,144 487.6,141 487.6,138.5 Z" fill="#fff" stroke="#3a3a3a" stroke-width="1.1" />
<path d="M491,147.5 C500,146 512,146 520,148" fill="none" stroke="#555" stroke-width="0.9" />
<g transform="translate(0,0)">
<ellipse cx="537.2" cy="148.5" rx="18.8" ry="8.3" fill="#fff" stroke="#555" stroke-width="0.9" />
<path d="M531.5,131.5 C534,127 536,122 538,120.3 C541,118.3 549,118.3 551.5,119.8 C552.4,120.6 552.6,122 552.6,124 L552.6,142 C549,148 541,152 532,154 Z" fill="#fff" stroke="#3a3a3a" stroke-width="1.1" />
<path d="M548.5,121.5 C550.5,123 551.5,125 551.5,127 L551.5,141" fill="none" stroke="#aaa" stroke-width="0.6" />
<ellipse cx="546.1" cy="122.7" rx="2.9" ry="1.6" fill="#e6e6e6" stroke="#3a3a3a" stroke-width="0.8" />
<path d="M530,131.6 C532,132.5 534,133.5 535.2,134.6 C534.5,137.5 536.5,140.6 539.3,140.6 C542.2,140.6 543.6,138 543.3,135.3 C543,132.5 540.5,131 538.5,131.1 C536.5,131.2 535.5,132.8 535.2,134.6" fill="#fff" stroke="#3a3a3a" stroke-width="1" />
<path d="M520.3,132.5 L520.3,154.8 A5.85,2.4 0 0 0 532,154.8 L532,132.5 Z" fill="#fff" stroke="#3a3a3a" stroke-width="1.1" />
<path d="M526.7,134.5 L526.7,156.5" fill="none" stroke="#bbb" stroke-width="0.6" />
<ellipse cx="526.15" cy="132.4" rx="5.85" ry="2.9" fill="#fff" stroke="#3a3a3a" stroke-width="1" />
<ellipse cx="526.5" cy="132.6" rx="2.2" ry="1.3" fill="#ddd" stroke="#3a3a3a" stroke-width="0.7" />
</g>
<ellipse cx="568.8" cy="162.5" rx="13" ry="7.5" fill="#fff" stroke="#3a3a3a" stroke-width="1" />
<ellipse cx="569.5" cy="163.5" rx="10" ry="5.2" fill="#fff" stroke="#666" stroke-width="0.8" />
<g transform="translate(54.4,30)">
<ellipse cx="537.2" cy="148.5" rx="18.8" ry="8.3" fill="#fff" stroke="#555" stroke-width="0.9" />
<path d="M531.5,131.5 C534,127 536,122 538,120.3 C541,118.3 549,118.3 551.5,119.8 C552.4,120.6 552.6,122 552.6,124 L552.6,142 C549,148 541,152 532,154 Z" fill="#fff" stroke="#3a3a3a" stroke-width="1.1" />
<path d="M548.5,121.5 C550.5,123 551.5,125 551.5,127 L551.5,141" fill="none" stroke="#aaa" stroke-width="0.6" />
<ellipse cx="546.1" cy="122.7" rx="2.9" ry="1.6" fill="#e6e6e6" stroke="#3a3a3a" stroke-width="0.8" />
<path d="M530,131.6 C532,132.5 534,133.5 535.2,134.6 C534.5,137.5 536.5,140.6 539.3,140.6 C542.2,140.6 543.6,138 543.3,135.3 C543,132.5 540.5,131 538.5,131.1 C536.5,131.2 535.5,132.8 535.2,134.6" fill="#fff" stroke="#3a3a3a" stroke-width="1" />
<path d="M520.3,132.5 L520.3,154.8 A5.85,2.4 0 0 0 532,154.8 L532,132.5 Z" fill="#fff" stroke="#3a3a3a" stroke-width="1.1" />
<path d="M526.7,134.5 L526.7,156.5" fill="none" stroke="#bbb" stroke-width="0.6" />
<ellipse cx="526.15" cy="132.4" rx="5.85" ry="2.9" fill="#fff" stroke="#3a3a3a" stroke-width="1" />
<ellipse cx="526.5" cy="132.6" rx="2.2" ry="1.3" fill="#ddd" stroke="#3a3a3a" stroke-width="0.7" />
</g>
<ellipse cx="610.7" cy="199" rx="20.5" ry="10.4" fill="#fff" stroke="#3a3a3a" stroke-width="1.1" />
<path d="M592,204 C600,208 620,209 629,204" fill="none" stroke="#555" stroke-width="0.9" />
<path d="M580.6,209.5 L580.6,226.5" fill="none" stroke="#555" stroke-width="0.8" />
<path d="M580.6,214 L602.6,224" fill="none" stroke="#555" stroke-width="0.8" />
<path d="M580.6,218 L602.6,228" fill="none" stroke="#555" stroke-width="0.8" />
<path d="M593,210 C595,215 594,222 596,228 L597,234" fill="none" stroke="#555" stroke-width="0.8" />
<path d="M602.6,220 L602.6,237.5" fill="none" stroke="#555" stroke-width="0.8" />
<ellipse cx="605.5" cy="222" rx="1.9" ry="2.4" fill="#fff" stroke="#3a3a3a" stroke-width="0.9" />
<ellipse cx="605.5" cy="232" rx="1.9" ry="2.4" fill="#fff" stroke="#3a3a3a" stroke-width="0.9" />
<path d="M552.7,141.8 L552.7,146" fill="none" stroke="#888" stroke-width="0.6" />
<path d="M552.2,249 L552.4,252.5 A18.9,10.3 0 0 0 590,252.5 L590,249 Z" fill="#ececec" stroke="#3a3a3a" stroke-width="1" />
<ellipse cx="571.1" cy="249" rx="18.9" ry="10.6" fill="#f5f5f5" stroke="#3a3a3a" stroke-width="1.1" />
<ellipse cx="571.1" cy="250.1" rx="10.7" ry="4.7" fill="#fff" stroke="#3a3a3a" stroke-width="1" />
<path d="M562,246.5 A10.5,4.5 0 0 1 580,246.5" fill="none" stroke="#888" stroke-width="0.6" />
<path d="M575.5,259 L575.5,262.5 M577.5,259 L577.5,262.5" fill="none" stroke="#666" stroke-width="0.7" />
<path d="M553,247 L553.5,252" fill="none" stroke="#666" stroke-width="0.7" />
<path d="M549.3,279 C551,287 558,295.8 570.6,295.8 C583,295.8 590,287 591.9,279 Z" fill="#eeeeee" stroke="#3a3a3a" stroke-width="1.1" />
<ellipse cx="570.6" cy="279.2" rx="21.3" ry="9.9" fill="#f7f7f7" stroke="#3a3a3a" stroke-width="1.1" />
<ellipse cx="570.6" cy="280.2" rx="19.2" ry="8.3" fill="#fafafa" stroke="#777" stroke-width="0.7" />
<ellipse cx="570.6" cy="285.3" rx="10.3" ry="4.3" fill="#fff" stroke="#3a3a3a" stroke-width="1" />
<path d="M552.7,310.5 L555.2,329.6 A15.5,8.0 0 0 0 586.2,329.6 L588.7,310.5 Z" fill="#efefef" stroke="#3a3a3a" stroke-width="1.1" />
<path d="M555.67,317.41 L557.76,331.89" fill="none" stroke="#555" stroke-width="0.9" />
<path d="M559.43,319.77 L561.00,333.92" fill="none" stroke="#555" stroke-width="0.9" />
<path d="M563.19,321.04 L564.23,335.02" fill="none" stroke="#555" stroke-width="0.9" />
<path d="M566.94,321.71 L567.47,335.60" fill="none" stroke="#555" stroke-width="0.9" />
<path d="M570.70,321.93 L570.70,335.78" fill="none" stroke="#555" stroke-width="0.9" />
<path d="M574.46,321.71 L573.93,335.60" fill="none" stroke="#555" stroke-width="0.9" />
<path d="M578.21,321.04 L577.17,335.02" fill="none" stroke="#555" stroke-width="0.9" />
<path d="M581.97,319.77 L580.40,333.92" fill="none" stroke="#555" stroke-width="0.9" />
<path d="M585.73,317.41 L583.64,331.89" fill="none" stroke="#555" stroke-width="0.9" />
<path d="M555.2,327.8 A15.5,8.0 0 0 0 586.2,327.8" fill="none" stroke="#666" stroke-width="0.7" />
<ellipse cx="570.7" cy="310.5" rx="18.0" ry="9.3" fill="#f4f4f4" stroke="#3a3a3a" stroke-width="1.1" />
<ellipse cx="570.7" cy="311.0" rx="15.5" ry="7.500000000000001" fill="#e2e2e2" stroke="#666" stroke-width="0.7" />
<ellipse cx="570.7" cy="311.7" rx="11.0" ry="5.000000000000001" fill="#fff" stroke="#3a3a3a" stroke-width="1" />
<path d="M555.4000000000001,366.2 L553.1,384.2 A17.6,8.8 0 0 0 588.3000000000001,384.2 L586.0,366.2 Z" fill="#efefef" stroke="#3a3a3a" stroke-width="1.1" />
<path d="M557.93,372.59 L556.01,386.87" fill="none" stroke="#555" stroke-width="0.9" />
<path d="M561.12,374.67 L559.68,389.10" fill="none" stroke="#555" stroke-width="0.9" />
<path d="M564.31,375.79 L563.35,390.31" fill="none" stroke="#555" stroke-width="0.9" />
<path d="M567.51,376.38 L567.03,390.95" fill="none" stroke="#555" stroke-width="0.9" />
<path d="M570.70,376.57 L570.70,391.15" fill="none" stroke="#555" stroke-width="0.9" />
<path d="M573.89,376.38 L574.37,390.95" fill="none" stroke="#555" stroke-width="0.9" />
<path d="M577.09,375.79 L578.05,390.31" fill="none" stroke="#555" stroke-width="0.9" />
<path d="M580.28,374.67 L581.72,389.10" fill="none" stroke="#555" stroke-width="0.9" />
<path d="M583.47,372.59 L585.39,386.87" fill="none" stroke="#555" stroke-width="0.9" />
<path d="M553.1,382.4 A17.6,8.8 0 0 0 588.3000000000001,382.4" fill="none" stroke="#666" stroke-width="0.7" />
<ellipse cx="570.7" cy="366.2" rx="15.3" ry="8.2" fill="#f4f4f4" stroke="#3a3a3a" stroke-width="1.1" />
<ellipse cx="570.7" cy="366.7" rx="12.8" ry="6.3999999999999995" fill="#e2e2e2" stroke="#666" stroke-width="0.7" />
<ellipse cx="570.7" cy="367.4" rx="8.3" ry="3.8999999999999995" fill="#fff" stroke="#3a3a3a" stroke-width="1" />
<path d="M549.7,414 L549.9,417 A20.9,9.5 0 0 0 591.3,417 L591.4,414 Z" fill="#eaeaea" stroke="#3a3a3a" stroke-width="1.1" />
<ellipse cx="570.6" cy="414" rx="20.9" ry="9.6" fill="#f4f4f4" stroke="#3a3a3a" stroke-width="1.1" />
<path d="M553.8,408 L554.5,413 A16.5,7 0 0 0 587.5,413 L588.5,408 Z" fill="#f0f0f0" stroke="#3a3a3a" stroke-width="0.9" />
<ellipse cx="571.1" cy="408" rx="17.3" ry="8.4" fill="#f8f8f8" stroke="#3a3a3a" stroke-width="1" />
<path d="M559.1,414 A11.8,5 0 0 1 582.6,414" fill="none" stroke="#3a3a3a" stroke-width="1" />
<path d="M561.3,440 L561.3,462 L560.4,466 L560.4,568 L580.6,568 L580.6,466 L579.6,462 L579.6,440 Z" fill="#fff" stroke="#3a3a3a" stroke-width="1" />
<path d="M561.3,443.0 A9.15,3 0 0 0 579.6,443.0" fill="none" stroke="#888" stroke-width="0.6" />
<path d="M561.3,445.0 A9.15,3 0 0 0 579.6,445.0" fill="none" stroke="#888" stroke-width="0.6" />
<path d="M561.3,447.0 A9.15,3 0 0 0 579.6,447.0" fill="none" stroke="#888" stroke-width="0.6" />
<path d="M561.3,449.0 A9.15,3 0 0 0 579.6,449.0" fill="none" stroke="#888" stroke-width="0.6" />
<path d="M561.3,451.0 A9.15,3 0 0 0 579.6,451.0" fill="none" stroke="#888" stroke-width="0.6" />
<path d="M561.3,453.0 A9.15,3 0 0 0 579.6,453.0" fill="none" stroke="#888" stroke-width="0.6" />
<path d="M561.3,455.0 A9.15,3 0 0 0 579.6,455.0" fill="none" stroke="#888" stroke-width="0.6" />
<path d="M561.3,457.0 A9.15,3 0 0 0 579.6,457.0" fill="none" stroke="#888" stroke-width="0.6" />
<path d="M561.3,459.0 A9.15,3 0 0 0 579.6,459.0" fill="none" stroke="#888" stroke-width="0.6" />
<path d="M561.3,461.0 A9.15,3 0 0 0 579.6,461.0" fill="none" stroke="#888" stroke-width="0.6" />
<path d="M560.4,466 A10.1,3.5 0 0 0 580.6,466" fill="none" stroke="#666" stroke-width="0.8" />
<path d="M560.4,473 A10.1,3.5 0 0 0 580.6,473" fill="none" stroke="#888" stroke-width="0.6" />
<ellipse cx="570.45" cy="439.5" rx="9.15" ry="3.6" fill="#f5f5f5" stroke="#3a3a3a" stroke-width="1" />
<ellipse cx="570.45" cy="439.8" rx="6.5" ry="2.4" fill="#fff" stroke="#777" stroke-width="0.7" />
<path d="M483.4,545 L483.4,577 C484,584 498,590 512,590.2 C515,590.2 518,590 518.4,590 L518.4,560 Z" fill="#fff" stroke="#3a3a3a" stroke-width="1.1" />
<path d="M533.6,538.5 L543.5,544.5 L543.5,555.5 L535,553.5 Z" fill="#fff" stroke="#3a3a3a" stroke-width="1" />
<path d="M536,541 L536,553" fill="none" stroke="#777" stroke-width="0.6" />
<path d="M504.8,564.6 L532,553 L543.5,555.5 L560.3,561 L581.9,568 L603.2,588.7 L592,596 L584.1,608.5 L556.9,596.8 L538.3,583.6 L525.9,575.9 Z" fill="#fff" stroke="none" stroke-width="0" />
<path d="M539.3,554.3 L560.3,561" fill="none" stroke="#3a3a3a" stroke-width="1.1" />
<path d="M581.9,568 L603.2,588.7" fill="none" stroke="#3a3a3a" stroke-width="1.1" />
<path d="M504.8,564.6 L525.9,575.9 L525.9,592.9 L504.8,584.1 Z" fill="#fff" stroke="#8a8a8a" stroke-width="0.8" />
<path d="M525.9,580 L529,581 L538.3,583.6 L556.9,596.8 L556.9,617.4 L554.7,609.9 L538.3,600.6 L529,600.6 L525.9,598.6 Z" fill="#fff" stroke="none" stroke-width="0" />
<path d="M525.9,580 L529,581 L538.3,583.6 L556.9,596.8" fill="none" stroke="#555" stroke-width="0.9" />
<path d="M525.9,580 L525.9,598.6 C526.5,600 527.5,600.6 529,600.6 L538.3,600.6 L554.7,609.9" fill="none" stroke="#3a3a3a" stroke-width="1.1" />
<path d="M529.5,582 L529.5,600 M538.3,584.5 L538.3,600.3" fill="none" stroke="#999" stroke-width="0.6" />
<path d="M556.9,596.8 L584.1,608.5 L584.1,633.5 L576.8,624.7 L562,618.8 L556.9,617.4 Z" fill="#fff" stroke="none" stroke-width="0" />
<path d="M556.9,596.8 L584.1,608.5" fill="none" stroke="#555" stroke-width="0.9" />
<path d="M556.9,596.8 L556.9,617.4 L562,618.8 L576.8,624.7 L584.1,633.5" fill="none" stroke="#3a3a3a" stroke-width="1.1" />
<path d="M561.4,599.5 L561.4,618.5 M568,602 L568,621" fill="none" stroke="#999" stroke-width="0.6" />
<ellipse cx="530.5" cy="581.2" rx="1.6" ry="1.1" fill="#ddd" stroke="#555" stroke-width="0.7" />
<ellipse cx="561.4" cy="598.8" rx="1.6" ry="1.1" fill="#ddd" stroke="#555" stroke-width="0.7" />
<path d="M508.4,566.6 C520,564 530,560 536.2,555.3" fill="none" stroke="#999" stroke-width="0.7" />
<path d="M505,563 C518,561 528,557 533,552" fill="none" stroke="#aaa" stroke-width="0.6" />
<ellipse cx="509.5" cy="544.8" rx="26.1" ry="14.9" fill="#fff" stroke="#3a3a3a" stroke-width="1.2" />
<ellipse cx="509.7" cy="545.5" rx="23.2" ry="12.9" fill="#fff" stroke="#3a3a3a" stroke-width="1" />
<path d="M525.6,535.2 L525.6,553.7" fill="none" stroke="#555" stroke-width="0.8" />
<path d="M560.3,556 L560.3,577 A10.8,4 0 0 0 581.9,577 L581.9,556 Z" fill="#fff" stroke="#3a3a3a" stroke-width="1" />
<path d="M560.4,557.5 A10.8,3.5 0 0 0 581.9,557.5" fill="none" stroke="#666" stroke-width="0.8" />
<path d="M584.1,603 L584.1,634 A25.75,15 0 0 0 635.6,634 L635.6,603 Z" fill="#fff" stroke="#3a3a3a" stroke-width="1.2" />
<ellipse cx="609.85" cy="603" rx="25.75" ry="15" fill="#fff" stroke="#3a3a3a" stroke-width="1.2" />
<ellipse cx="610.2" cy="604.1" rx="23.2" ry="12.5" fill="#fff" stroke="#3a3a3a" stroke-width="1" />
<path d="M627.5,593.8 L627.5,610" fill="none" stroke="#555" stroke-width="0.8" />
<path d="M635.6,597.5 L646.6,603 L646.6,620 L635.6,623.2" fill="#fff" stroke="#3a3a3a" stroke-width="1" />
<ellipse cx="640.7" cy="612.2" rx="1.8" ry="2.2" fill="#fff" stroke="#3a3a3a" stroke-width="0.8" />
<ellipse cx="640.7" cy="618.8" rx="1.8" ry="2.2" fill="#fff" stroke="#3a3a3a" stroke-width="0.8" />
<path d="M464.76,515.80 L482.76,525.10 A2.7,2.7 0 0 0 485.24,520.30 L467.24,511.00 Z" fill="#e2e2e2" stroke="#3a3a3a" stroke-width="0.9" />
<path d="M472.32,519.70 L474.80,514.91" fill="none" stroke="#777" stroke-width="0.55" />
<path d="M473.31,520.22 L475.79,515.42" fill="none" stroke="#777" stroke-width="0.55" />
<path d="M474.30,520.73 L476.78,515.93" fill="none" stroke="#777" stroke-width="0.55" />
<path d="M475.29,521.24 L477.77,516.44" fill="none" stroke="#777" stroke-width="0.55" />
<path d="M476.28,521.75 L478.76,516.95" fill="none" stroke="#777" stroke-width="0.55" />
<path d="M477.27,522.26 L479.75,517.46" fill="none" stroke="#777" stroke-width="0.55" />
<path d="M478.26,522.77 L480.74,517.98" fill="none" stroke="#777" stroke-width="0.55" />
<path d="M479.25,523.29 L481.73,518.49" fill="none" stroke="#777" stroke-width="0.55" />
<path d="M480.24,523.80 L482.72,519.00" fill="none" stroke="#777" stroke-width="0.55" />
<path d="M481.23,524.31 L483.71,519.51" fill="none" stroke="#777" stroke-width="0.55" />
<path d="M463.61,518.02 L467.61,520.09 A3.12,5.2 27.3 0 0 472.38,510.85 L468.39,508.78 Z" fill="#e6e6e6" stroke="#3a3a3a" stroke-width="0.9" />
<ellipse cx="466" cy="513.4" rx="3.12" ry="5.2" fill="#f0f0f0" stroke="#3a3a3a" stroke-width="1" transform="rotate(27.3 466 513.4)"/>
<ellipse cx="466" cy="513.4" rx="1.56" ry="2.6" fill="#ccc" stroke="#555" stroke-width="0.6" transform="rotate(27.3 466 513.4)"/>
<path d="M485,523.5 L500,530" class="ax"/>
<path d="M689.86,637.27 L670.76,626.17 A2.7,2.7 0 0 0 668.04,630.83 L687.14,641.93 Z" fill="#e2e2e2" stroke="#3a3a3a" stroke-width="0.9" />
<path d="M681.83,632.60 L679.12,637.27" fill="none" stroke="#777" stroke-width="0.55" />
<path d="M680.88,632.05 L678.17,636.72" fill="none" stroke="#777" stroke-width="0.55" />
<path d="M679.92,631.49 L677.21,636.16" fill="none" stroke="#777" stroke-width="0.55" />
<path d="M678.97,630.94 L676.26,635.61" fill="none" stroke="#777" stroke-width="0.55" />
<path d="M678.01,630.38 L675.30,635.05" fill="none" stroke="#777" stroke-width="0.55" />
<path d="M677.06,629.83 L674.35,634.50" fill="none" stroke="#777" stroke-width="0.55" />
<path d="M676.10,629.27 L673.39,633.94" fill="none" stroke="#777" stroke-width="0.55" />
<path d="M675.15,628.72 L672.44,633.39" fill="none" stroke="#777" stroke-width="0.55" />
<path d="M674.19,628.16 L671.48,632.83" fill="none" stroke="#777" stroke-width="0.55" />
<path d="M673.24,627.61 L670.53,632.28" fill="none" stroke="#777" stroke-width="0.55" />
<path d="M672.28,627.05 L669.57,631.72" fill="none" stroke="#777" stroke-width="0.55" />
<path d="M691.11,635.10 L687.22,632.84 A3.12,5.2 -149.8 0 0 682.00,641.83 L685.89,644.10 Z" fill="#e6e6e6" stroke="#3a3a3a" stroke-width="0.9" />
<ellipse cx="688.5" cy="639.6" rx="3.12" ry="5.2" fill="#f0f0f0" stroke="#3a3a3a" stroke-width="1" transform="rotate(-149.8 688.5 639.6)"/>
<ellipse cx="688.5" cy="639.6" rx="1.56" ry="2.6" fill="#ccc" stroke="#555" stroke-width="0.6" transform="rotate(-149.8 688.5 639.6)"/>
<path d="M647,616 L668,627.5" class="ax"/>
<path d="M655.55,245.31 L637.05,235.61 A2.7,2.7 0 0 0 634.55,240.39 L653.05,250.09 Z" fill="#e2e2e2" stroke="#3a3a3a" stroke-width="0.9" />
<path d="M647.78,241.23 L645.28,246.02" fill="none" stroke="#777" stroke-width="0.55" />
<path d="M646.77,240.70 L644.26,245.48" fill="none" stroke="#777" stroke-width="0.55" />
<path d="M645.75,240.17 L643.24,244.95" fill="none" stroke="#777" stroke-width="0.55" />
<path d="M644.73,239.63 L642.22,244.42" fill="none" stroke="#777" stroke-width="0.55" />
<path d="M643.71,239.10 L641.21,243.88" fill="none" stroke="#777" stroke-width="0.55" />
<path d="M642.70,238.57 L640.19,243.35" fill="none" stroke="#777" stroke-width="0.55" />
<path d="M641.68,238.03 L639.17,242.82" fill="none" stroke="#777" stroke-width="0.55" />
<path d="M640.66,237.50 L638.15,242.28" fill="none" stroke="#777" stroke-width="0.55" />
<path d="M639.64,236.97 L637.14,241.75" fill="none" stroke="#777" stroke-width="0.55" />
<path d="M638.63,236.43 L636.12,241.22" fill="none" stroke="#777" stroke-width="0.55" />
<path d="M656.71,243.09 L652.73,241.01 A3.12,5.2 -152.3 0 0 647.90,250.22 L651.89,252.31 Z" fill="#e6e6e6" stroke="#3a3a3a" stroke-width="0.9" />
<ellipse cx="654.3" cy="247.7" rx="3.12" ry="5.2" fill="#f0f0f0" stroke="#3a3a3a" stroke-width="1" transform="rotate(-152.3 654.3 247.7)"/>
<ellipse cx="654.3" cy="247.7" rx="1.56" ry="2.6" fill="#ccc" stroke="#555" stroke-width="0.6" transform="rotate(-152.3 654.3 247.7)"/>
<path d="M620,230 L635,237.5" class="ax"/>
<path d="M813.8,245.3 L813.8,542.7 A16.3,5.5 0 0 0 846.4,542.7 L846.4,245.3" fill="#fff" stroke="#3a3a3a" stroke-width="1" />
<path d="M813.8,248.10000000000002 A16.3,9.3 0 0 0 846.4,248.10000000000002" fill="none" stroke="#666" stroke-width="0.8" />
<path d="M813.8,251.5 A16.3,9.3 0 0 0 846.4,251.5" fill="none" stroke="#888" stroke-width="0.8" />
<path d="M813.8,254.70000000000002 A16.3,9.3 0 0 0 846.4,254.70000000000002" fill="none" stroke="#888" stroke-width="0.8" />
<path d="M813.8,258.1 A16.3,9.3 0 0 0 846.4,258.1" fill="none" stroke="#666" stroke-width="0.8" />
<ellipse cx="830.3" cy="245.3" rx="17.4" ry="10" fill="#fafafa" stroke="#3a3a3a" stroke-width="1.2" />
<ellipse cx="830.4" cy="245.7" rx="15.5" ry="7.9" fill="#fff" stroke="#555" stroke-width="0.8" />
<ellipse cx="818.5" cy="273.7" rx="1.8" ry="2.8" fill="#fff" stroke="#3a3a3a" stroke-width="0.9" transform="rotate(-20 818.5 273.7)"/>
<ellipse cx="841.8" cy="273.7" rx="1.8" ry="2.8" fill="#fff" stroke="#3a3a3a" stroke-width="0.9" transform="rotate(20 841.8 273.7)"/>
<path d="M814.1,542.7 C811.7,543.2 809.0,545.2 809.0,548.2 L809.0,560.2 L809.6,565.3 L796.7,580.6 C794.7,585.2 797.2,593.2 801.4,598.2 L810.8,601.8 L824.3,594.7 C829.2,596.2 833.2,595.2 834.9,593.5 L842.6,579.4 L849.0,568.8 L850.8,560.2 L850.8,548.2 C850.8,545.2 848.7,543.2 846.3,542.7 Z" fill="#fff" stroke="none" stroke-width="0" />
<path d="M814.1,542.7 C811.7,543.2 809.0,545.2 809.0,548.2 L809.0,560.2 L809.6,565.3 L796.7,580.6 C794.7,585.2 797.2,593.2 801.4,598.2 L810.8,601.8 L824.3,594.7 C829.2,596.2 833.2,595.2 834.9,593.5 L842.6,579.4 L849.0,568.8 L850.8,560.2 L850.8,548.2 C850.8,545.2 848.7,543.2 846.3,542.7" fill="none" stroke="#3a3a3a" stroke-width="1.1" />
<path d="M809.2,552.2 A20.75,6 0 0 0 850.7,552.2" fill="none" stroke="#555" stroke-width="0.9" />
<path d="M809.6,565.3 L817.2,570.2 L838.2,570.2 L843.2,565.2" fill="none" stroke="#777" stroke-width="0.7" />
<path d="M816.2,569.2 L805.2,584.2 M821.2,572.2 L813.2,592.2" fill="none" stroke="#666" stroke-width="0.7" />
<path d="M830.2,566.2 L839.2,564.2 M828.2,572.2 L842.2,573.2" fill="none" stroke="#888" stroke-width="0.6" />
<path d="M801.4,598.2 L800.2,594.2 M810.8,601.8 L810.2,597.2 L822.2,591.2" fill="none" stroke="#777" stroke-width="0.6" />
<ellipse cx="799.6" cy="580.6" rx="3.2" ry="3.2" fill="#fff" stroke="#3a3a3a" stroke-width="1" />
<ellipse cx="807.2" cy="585.3000000000001" rx="3.3" ry="3.3" fill="#fff" stroke="#3a3a3a" stroke-width="1" />
<ellipse cx="820.2" cy="589.4000000000001" rx="6.2" ry="6.8" fill="#fff" stroke="#3a3a3a" stroke-width="1.1" />
<ellipse cx="821.0" cy="589.7" rx="4.2" ry="5" fill="#fff" stroke="#3a3a3a" stroke-width="0.8" />
<ellipse cx="850.2" cy="567.0" rx="3.2" ry="3.8" fill="#fff" stroke="#3a3a3a" stroke-width="1" />
<ellipse cx="850.5" cy="567.0" rx="1.7" ry="2.4" fill="#fff" stroke="#555" stroke-width="0.7" />
<ellipse cx="840.8000000000001" cy="564.7" rx="1.8" ry="1.8" fill="#fff" stroke="#3a3a3a" stroke-width="0.8" />
<path d="M840.2,584.2 L843.2,578.2 L847.7,583.2 L844.2,586.2 Z" fill="#fff" stroke="#3a3a3a" stroke-width="0.8" />
<path d="M814.1,542.7 A16.1,5.5 0 0 0 846.3000000000001,542.7" fill="none" stroke="#3a3a3a" stroke-width="1.1" />
<path d="M719.3,377 C719.3,373.5 721,373 723,374.5 C730,380 738,384 744,386.5 C746,387.5 747,388.5 748,391 L771.5,449 C772.8,452 773.8,455 773.8,459 L773.8,593 C770,601 760,607 742.3,608 C730,607.5 722,603 719.4,598 Z" fill="#fff" stroke="#3a3a3a" stroke-width="1.2" />
<path d="M719.7,524.8 C721,545 725,570 735,583 C742,590 755,590 767.4,588.7" fill="none" stroke="#888" stroke-width="0.7" />
<path d="M719.7,589.5 C728,597 755,600 773.8,590.3" fill="none" stroke="#777" stroke-width="0.7" />
<path d="M746,395 L746,405 C746,408 748,409 750,410 L770,460 L770.5,540" fill="none" stroke="#999" stroke-width="0.6" />
<path d="M726.2,396 L737.7,392 L737.7,421 L726.2,425 Z" fill="#fff" stroke="#3a3a3a" stroke-width="1" />
<path d="M727.6,397 L727.6,424" fill="none" stroke="#555" stroke-width="0.8" />
<ellipse cx="732.5" cy="401.5" rx="2.4" ry="2.8" fill="#fff" stroke="#3a3a3a" stroke-width="0.9" />
<ellipse cx="732.5" cy="416.5" rx="2.4" ry="2.8" fill="#fff" stroke="#3a3a3a" stroke-width="0.9" />
<path d="M737.7,421 L742,425 L747,425" fill="none" stroke="#999" stroke-width="0.6" />
<path d="M719.4,598 L719.4,606.6 L723.7,606.6 L723.7,601" fill="#fff" stroke="#3a3a3a" stroke-width="0.9" />
<path d="M739,607.5 C738,611 741,613 742,616 C744,621 752,623 756,619 C758,616 760,614 763,614.5 C767,615 771,611 771.4,605 L771.4,601" fill="#fff" stroke="#3a3a3a" stroke-width="1.1" />
<ellipse cx="748.8" cy="614.3" rx="3.6" ry="3.6" fill="#fff" stroke="#3a3a3a" stroke-width="1" />
<ellipse cx="765.7" cy="608.9" rx="3" ry="3.4" fill="#fff" stroke="#3a3a3a" stroke-width="1" />
<path d="M797.06,622.05 L776.36,611.85 A2.4,2.4 0 0 0 774.24,616.15 L794.94,626.35 Z" fill="#e4e4e4" stroke="#3a3a3a" stroke-width="0.9" />
<path d="M790.85,618.99 L788.73,623.29" fill="none" stroke="#888" stroke-width="0.6" />
<path d="M789.61,618.38 L787.49,622.68" fill="none" stroke="#888" stroke-width="0.6" />
<path d="M788.37,617.76 L786.25,622.07" fill="none" stroke="#888" stroke-width="0.6" />
<path d="M787.12,617.15 L785.00,621.46" fill="none" stroke="#888" stroke-width="0.6" />
<path d="M785.88,616.54 L783.76,620.84" fill="none" stroke="#888" stroke-width="0.6" />
<path d="M784.64,615.93 L782.52,620.23" fill="none" stroke="#888" stroke-width="0.6" />
<path d="M783.40,615.32 L781.28,619.62" fill="none" stroke="#888" stroke-width="0.6" />
<path d="M782.16,614.70 L780.04,619.01" fill="none" stroke="#888" stroke-width="0.6" />
<path d="M780.91,614.09 L778.79,618.40" fill="none" stroke="#888" stroke-width="0.6" />
<path d="M779.67,613.48 L777.55,617.78" fill="none" stroke="#888" stroke-width="0.6" />
<path d="M778.43,612.87 L776.31,617.17" fill="none" stroke="#888" stroke-width="0.6" />
<ellipse cx="794.6544818353822" cy="623.5369910493188" rx="2.8600000000000003" ry="5.2" fill="#e8e8e8" stroke="#3a3a3a" stroke-width="1" transform="rotate(-153.8 794.65 623.54)"/>
<ellipse cx="797.0764145316942" cy="624.730407160545" rx="2.8600000000000003" ry="4.42" fill="#efefef" stroke="#3a3a3a" stroke-width="1" transform="rotate(-153.8 797.08 624.73)"/>
<path d="M799.80,624.40 L795.77,622.41 M798.48,627.09 L794.44,625.10" fill="none" stroke="#777" stroke-width="0.6" />
<path d="M771,612 L775,614" class="ax"/>
<path d="M953.8,80 L953.8,92 M953.8,122 L953.8,132 M953.8,160 L953.8,200 M953.8,232 L953.8,253.5 M953.8,302 L953.8,310 M953.8,335 L953.8,343" fill="none" stroke="#999" stroke-width="1" stroke-dasharray="6,2"/>
<path d="M998.8,98 L998.8,108 M998.8,141 L998.8,150 M998.8,178 L998.8,223 M998.8,262 L998.8,291 M998.8,340 L998.8,346 M998.8,372 L998.8,381" fill="none" stroke="#999" stroke-width="1" stroke-dasharray="6,2"/>
<path d="M892.1,189.4 L892.1,208.2 L917.4,222.4 L932,218.2 L960.3,235.3 L999.6,254.5 L999.6,272.4 L1023.8,283.4 C1040,281 1050,277 1053.2,268 L1053.2,240 L1040,225 L960,185 L915,178 Z" fill="#fff" stroke="#3a3a3a" stroke-width="1.2" />
<path d="M892.1,189.4 C893,187 895,186.5 896.8,185.9 C899,184 901,182.5 902.6,181.2 C905,175 915,170 926.2,170 C934,170 941,171.5 946.2,174.7 L975,186.5 L1009.1,206.2 L1035.6,220.9 C1042,224 1047,227 1047.4,229.7 C1051,233 1053,236 1053.2,240 C1050,250 1040,256 1030,256.5 C1015,257 1005,254 1001.8,243 L965,224.6 C950,217 940,206 929.7,198.8 L916.2,198.8 L892.1,196 Z" fill="#fff" stroke="#3a3a3a" stroke-width="1.2" />
<ellipse cx="925.6" cy="183.2" rx="21.8" ry="12" fill="#fff" stroke="#3a3a3a" stroke-width="1.1" />
<path d="M906,190 C915,194 935,195.5 945,190" fill="none" stroke="#555" stroke-width="0.9" />
<path d="M892.1,200 L917.4,212 M892.1,204.7 L917.4,216.5" fill="none" stroke="#555" stroke-width="0.8" />
<path d="M904.4,192 C906,196 903.5,201 905.5,206 C904,210 905,214 905.5,216" fill="none" stroke="#555" stroke-width="0.8" />
<path d="M916.2,198.8 L916.2,222.4 M929.1,198.8 L929.1,219" fill="none" stroke="#666" stroke-width="0.8" />
<ellipse cx="919.7" cy="205.3" rx="1.8" ry="2.3" fill="#fff" stroke="#3a3a3a" stroke-width="0.9" />
<ellipse cx="919.7" cy="217.6" rx="1.8" ry="2.3" fill="#fff" stroke="#3a3a3a" stroke-width="0.9" />
<path d="M929.7,198.8 C940,205 950,215 960.3,221.2 L999,241" fill="none" stroke="#666" stroke-width="0.8" />
<path d="M960.3,221.2 L960.3,235.3" fill="none" stroke="#888" stroke-width="0.7" />
<path d="M943.8,200 L943.8,202.5 A10,5.8 0 0 0 963.8,202.5 L963.8,200" fill="#fff" stroke="#666" stroke-width="0.8" />
<ellipse cx="953.8" cy="200" rx="10" ry="5.8" fill="#fff" stroke="#3a3a3a" stroke-width="1" />
<ellipse cx="954.3" cy="199.5" rx="7.3" ry="4" fill="#fff" stroke="#3a3a3a" stroke-width="0.9" />
<path d="M988.8,223.1 L988.8,225.6 A10,5.8 0 0 0 1008.8,225.6 L1008.8,223.1" fill="#fff" stroke="#666" stroke-width="0.8" />
<ellipse cx="998.8" cy="223.1" rx="10" ry="5.8" fill="#fff" stroke="#3a3a3a" stroke-width="1" />
<ellipse cx="999.3" cy="222.6" rx="7.3" ry="4" fill="#fff" stroke="#3a3a3a" stroke-width="0.9" />
<ellipse cx="984.9" cy="204.7" rx="12.5" ry="7" fill="#fff" stroke="#3a3a3a" stroke-width="1" />
<path d="M973,206 A12,6 0 0 0 997,206" fill="none" stroke="#777" stroke-width="0.8" />
<ellipse cx="1031.2" cy="244.8" rx="22" ry="11.4" fill="#fff" stroke="#3a3a3a" stroke-width="1.1" />
<path d="M1011,250 C1020,255 1042,256 1051,249" fill="none" stroke="#555" stroke-width="0.9" />
<path d="M999.6,260 L1023.8,271 M999.6,264.5 L1023.8,275.5" fill="none" stroke="#555" stroke-width="0.8" />
<path d="M1012,256 C1014,261 1011.5,265 1013.5,270 C1012,274 1013,277 1013.5,279" fill="none" stroke="#555" stroke-width="0.8" />
<path d="M1023.8,262 L1023.8,283.4" fill="none" stroke="#666" stroke-width="0.8" />
<ellipse cx="1027.5" cy="266.5" rx="3.3" ry="4.3" fill="#fff" stroke="#3a3a3a" stroke-width="1" />
<ellipse cx="1027.5" cy="276.8" rx="3.3" ry="4.3" fill="#fff" stroke="#3a3a3a" stroke-width="1" />
<path d="M949.8,50.3 L949.8,79 C949.8,80 957.8,80 957.8,79 L957.8,50.3" fill="#f2f2f2" stroke="#3a3a3a" stroke-width="1" />
<path d="M949.8,63.1 L957.8,63.1" fill="none" stroke="#999" stroke-width="0.6" />
<path d="M949.8,65.2 L957.8,65.2" fill="none" stroke="#999" stroke-width="0.6" />
<path d="M949.8,67.3 L957.8,67.3" fill="none" stroke="#999" stroke-width="0.6" />
<path d="M949.8,69.4 L957.8,69.4" fill="none" stroke="#999" stroke-width="0.6" />
<path d="M949.8,71.6 L957.8,71.6" fill="none" stroke="#999" stroke-width="0.6" />
<path d="M949.8,73.7 L957.8,73.7" fill="none" stroke="#999" stroke-width="0.6" />
<path d="M949.8,75.8 L957.8,75.8" fill="none" stroke="#999" stroke-width="0.6" />
<path d="M949.8,77.9 L957.8,77.9" fill="none" stroke="#999" stroke-width="0.6" />
<path d="M946.0,43.8 C946.0,39.5 961.5999999999999,39.5 961.5999999999999,43.8 L961.4,47.8 C960.3,50.8 957.8,51.8 957.5999999999999,51.8 L950.0,51.8 C949.8,51.8 947.3,50.8 946.1999999999999,47.8 Z" fill="#f4f4f4" stroke="#3a3a3a" stroke-width="1.1" />
<path d="M946.4,46.3 C948.8,47.9 958.8,47.9 961.1999999999999,46.3" fill="none" stroke="#888" stroke-width="0.6" />
<path d="M951.0,47.599999999999994 L950.5,51.3 M956.5999999999999,47.599999999999994 L957.0999999999999,51.3" fill="none" stroke="#999" stroke-width="0.5" />
<path d="M994.8,68.7 L994.8,97.2 C994.8,98.2 1002.8,98.2 1002.8,97.2 L1002.8,68.7" fill="#f2f2f2" stroke="#3a3a3a" stroke-width="1" />
<path d="M994.8,81.4 L1002.8,81.4" fill="none" stroke="#999" stroke-width="0.6" />
<path d="M994.8,83.5 L1002.8,83.5" fill="none" stroke="#999" stroke-width="0.6" />
<path d="M994.8,85.6 L1002.8,85.6" fill="none" stroke="#999" stroke-width="0.6" />
<path d="M994.8,87.7 L1002.8,87.7" fill="none" stroke="#999" stroke-width="0.6" />
<path d="M994.8,89.8 L1002.8,89.8" fill="none" stroke="#999" stroke-width="0.6" />
<path d="M994.8,91.9 L1002.8,91.9" fill="none" stroke="#999" stroke-width="0.6" />
<path d="M994.8,94.0 L1002.8,94.0" fill="none" stroke="#999" stroke-width="0.6" />
<path d="M994.8,96.1 L1002.8,96.1" fill="none" stroke="#999" stroke-width="0.6" />
<path d="M991.0,62.2 C991.0,57.900000000000006 1006.5999999999999,57.900000000000006 1006.5999999999999,62.2 L1006.4,66.2 C1005.3,69.2 1002.8,70.2 1002.5999999999999,70.2 L995.0,70.2 C994.8,70.2 992.3,69.2 991.1999999999999,66.2 Z" fill="#f4f4f4" stroke="#3a3a3a" stroke-width="1.1" />
<path d="M991.4,64.7 C993.8,66.3 1003.8,66.3 1006.1999999999999,64.7" fill="none" stroke="#888" stroke-width="0.6" />
<path d="M996.0,66.0 L995.5,69.7 M1001.5999999999999,66.0 L1002.0999999999999,69.7" fill="none" stroke="#999" stroke-width="0.5" />
<g transform="translate(0,0)">
<path d="M934.3,119.6 L934.3,105.4 C934.5,103 936,101.2 939.3,101 C943,100.5 948,99 951.6,96.7 C953.5,95 954.5,92.5 956.5,90.6 C959,89 963,88.8 966.4,89.9 C968.5,90.5 969.7,91.5 969.7,93.5 L969.7,110.9 C968.5,115 966.5,117 964.6,118.3 C961,121 957,122.7 954.7,122.7 L948.5,122.2 L938,122.2 C935.5,122 934.3,121 934.3,119.6 Z" fill="#fff" stroke="#3a3a3a" stroke-width="1.2" />
<path d="M939.3,101 C942,102 944.5,104 946.5,106 C948.5,108 951,111 953.5,112.2 C956,113 960,111 962.3,108 C964,105 964,101 963.3,99.2 C962.5,97.5 960.5,96.7 959,96.7" fill="none" stroke="#3a3a3a" stroke-width="1" />
<path d="M952.8,98 C953.5,102 953.5,106 953.5,110" fill="none" stroke="#888" stroke-width="0.7" />
<path d="M959,96.7 C957,97 955,98 952.8,98" fill="none" stroke="#888" stroke-width="0.7" />
<path d="M934.3,108 C937,109 940,109.7 942.3,109.7 L948,110" fill="none" stroke="#999" stroke-width="0.7" />
<path d="M944.5,110 L944.5,122" fill="none" stroke="#aaa" stroke-width="0.7" />
<ellipse cx="940.8" cy="106" rx="3.4" ry="1.6" fill="#f4f4f4" stroke="#3a3a3a" stroke-width="0.8" />
<ellipse cx="963" cy="93.3" rx="3.4" ry="1.8" fill="#f4f4f4" stroke="#3a3a3a" stroke-width="0.8" />
</g>
<g transform="translate(44.7,18.6)">
<path d="M934.3,119.6 L934.3,105.4 C934.5,103 936,101.2 939.3,101 C943,100.5 948,99 951.6,96.7 C953.5,95 954.5,92.5 956.5,90.6 C959,89 963,88.8 966.4,89.9 C968.5,90.5 969.7,91.5 969.7,93.5 L969.7,110.9 C968.5,115 966.5,117 964.6,118.3 C961,121 957,122.7 954.7,122.7 L948.5,122.2 L938,122.2 C935.5,122 934.3,121 934.3,119.6 Z" fill="#fff" stroke="#3a3a3a" stroke-width="1.2" />
<path d="M939.3,101 C942,102 944.5,104 946.5,106 C948.5,108 951,111 953.5,112.2 C956,113 960,111 962.3,108 C964,105 964,101 963.3,99.2 C962.5,97.5 960.5,96.7 959,96.7" fill="none" stroke="#3a3a3a" stroke-width="1" />
<path d="M952.8,98 C953.5,102 953.5,106 953.5,110" fill="none" stroke="#888" stroke-width="0.7" />
<path d="M959,96.7 C957,97 955,98 952.8,98" fill="none" stroke="#888" stroke-width="0.7" />
<path d="M934.3,108 C937,109 940,109.7 942.3,109.7 L948,110" fill="none" stroke="#999" stroke-width="0.7" />
<path d="M944.5,110 L944.5,122" fill="none" stroke="#aaa" stroke-width="0.7" />
<ellipse cx="940.8" cy="106" rx="3.4" ry="1.6" fill="#f4f4f4" stroke="#3a3a3a" stroke-width="0.8" />
<ellipse cx="963" cy="93.3" rx="3.4" ry="1.8" fill="#f4f4f4" stroke="#3a3a3a" stroke-width="0.8" />
</g>
<path d="M942.1999999999999,142 L944.0,156.4 A9.6,4.5 0 0 0 963.2,156.4 L965.0000000000001,142 Z" fill="#cfcfcf" stroke="#3a3a3a" stroke-width="1.1" />
<path d="M941.9,138 L942.1999999999999,142 A11.399999999999999,6 0 0 0 965.0000000000001,142 L965.3000000000001,138 Z" fill="#fafafa" stroke="#3a3a3a" stroke-width="1" />
<ellipse cx="953.6" cy="138" rx="11.7" ry="6" fill="#fafafa" stroke="#3a3a3a" stroke-width="1.1" />
<ellipse cx="953.6" cy="138.4" rx="6.668999999999999" ry="3.3000000000000003" fill="#fff" stroke="#3a3a3a" stroke-width="1" />
<path d="M987.3,160 L989.5,175.2 A9.4,4.65 0 0 0 1008.3,175.2 L1010.5,160 Z" fill="#cfcfcf" stroke="#3a3a3a" stroke-width="1.1" />
<path d="M987.0,156 L987.3,160 A11.6,6.2 0 0 0 1010.5,160 L1010.8,156 Z" fill="#fafafa" stroke="#3a3a3a" stroke-width="1" />
<ellipse cx="998.9" cy="156" rx="11.9" ry="6.2" fill="#fafafa" stroke="#3a3a3a" stroke-width="1.1" />
<ellipse cx="998.9" cy="156.4" rx="6.7829999999999995" ry="3.4100000000000006" fill="#fff" stroke="#3a3a3a" stroke-width="1" />
<path d="M945.2,312.8 C944.2,317.8 941.6,323.3 941.6,328.3 C942.6,334.3 964.6,334.3 965.6,328.3 C965.6,323.3 963.0,317.8 962.0,312.8 Z" fill="#c9c9c9" stroke="#3a3a3a" stroke-width="1.1" />
<path d="M942.1,328.3 C943.6,332.3 963.6,332.3 965.1,328.3" fill="none" stroke="#888" stroke-width="0.7" />
<ellipse cx="953.6" cy="312.8" rx="8.4" ry="3.9" fill="#d9d9d9" stroke="#3a3a3a" stroke-width="1" />
<ellipse cx="953.6" cy="313.40000000000003" rx="5.208" ry="2.145" fill="#fafafa" stroke="#555" stroke-width="0.9" />
<path d="M990.4,349.6 C989.4,354.6 986.8,360.9 986.8,365.9 C987.8,371.9 1009.8,371.9 1010.8,365.9 C1010.8,360.9 1008.1999999999999,354.6 1007.1999999999999,349.6 Z" fill="#c9c9c9" stroke="#3a3a3a" stroke-width="1.1" />
<path d="M987.3,365.9 C988.8,369.9 1008.8,369.9 1010.3,365.9" fill="none" stroke="#888" stroke-width="0.7" />
<ellipse cx="998.8" cy="349.6" rx="8.4" ry="3.9" fill="#d9d9d9" stroke="#3a3a3a" stroke-width="1" />
<ellipse cx="998.8" cy="350.20000000000005" rx="5.208" ry="2.145" fill="#fafafa" stroke="#555" stroke-width="0.9" />
<path d="M947.7,256.2 L947.7,300 A6,2.6 0 0 0 959.7,300 L959.7,256.2 Z" fill="#fff" stroke="#3a3a3a" stroke-width="1.1" />
<ellipse cx="953.7" cy="256.2" rx="6" ry="2.6" fill="#fff" stroke="#3a3a3a" stroke-width="1" />
<path d="M950.2,258.2 L950.2,300" fill="none" stroke="#aaa" stroke-width="0.6" />
<path d="M992.4,293.8 L992.4,337.5 A6,2.6 0 0 0 1004.4,337.5 L1004.4,293.8 Z" fill="#fff" stroke="#3a3a3a" stroke-width="1.1" />
<ellipse cx="998.4" cy="293.8" rx="6" ry="2.6" fill="#fff" stroke="#3a3a3a" stroke-width="1" />
<path d="M994.9,295.8 L994.9,337.5" fill="none" stroke="#aaa" stroke-width="0.6" />
<path d="M946,345.5 L946,351.0 C948,355.8 960,355.8 962,351.0 L962,345.5 Z" fill="#fafafa" stroke="#3a3a3a" stroke-width="1.1" />
<ellipse cx="954" cy="345.5" rx="8" ry="4.4" fill="#fafafa" stroke="#3a3a3a" stroke-width="1.1" />
<path d="M946.2,347.0 L950,349.5 L958,349.5 L961.8,347.0 M950,349.5 L950,355.0 M958,349.5 L958,355.0" fill="none" stroke="#888" stroke-width="0.6" />
<ellipse cx="954" cy="345.3" rx="3.4" ry="1.8" fill="#eee" stroke="#3a3a3a" stroke-width="0.9" />
<path d="M991.1,383.8 L991.1,389.3 C993.1,394.1 1005.1,394.1 1007.1,389.3 L1007.1,383.8 Z" fill="#fafafa" stroke="#3a3a3a" stroke-width="1.1" />
<ellipse cx="999.1" cy="383.8" rx="8" ry="4.4" fill="#fafafa" stroke="#3a3a3a" stroke-width="1.1" />
<path d="M991.3000000000001,385.3 L995.1,387.8 L1003.1,387.8 L1006.9,385.3 M995.1,387.8 L995.1,393.3 M1003.1,387.8 L1003.1,393.3" fill="none" stroke="#888" stroke-width="0.6" />
<ellipse cx="999.1" cy="383.6" rx="3.4" ry="1.8" fill="#eee" stroke="#3a3a3a" stroke-width="0.9" />
<path d="M570.6,89 L570.6,103" fill="none" stroke="#c2c2c2" stroke-width="1"/>
<path d="M570.6,157 L570.6,166" fill="none" stroke="#c2c2c2" stroke-width="1"/>
<path d="M570.6,238 L570.6,254" fill="none" stroke="#c2c2c2" stroke-width="1"/>
<path d="M570.6,268 L570.6,288" fill="none" stroke="#c2c2c2" stroke-width="1"/>
<path d="M570.6,300 L570.6,316" fill="none" stroke="#c2c2c2" stroke-width="1"/>
<path d="M570.6,356 L570.6,372" fill="none" stroke="#c2c2c2" stroke-width="1"/>
<path d="M570.6,398 L570.6,418" fill="none" stroke="#c2c2c2" stroke-width="1"/>
<path d="M570.6,433 L570.6,441" fill="none" stroke="#c2c2c2" stroke-width="1"/>
<path d="M192,62 L210,66 L215,66" class="ld"/>
<path d="M191,96 L210,101 L215,101" class="ld"/>
<path d="M190.7,139 L210,144 L215,144" class="ld"/>
<path d="M192,173 L210,178 L215,178" class="ld"/>
<path d="M192,202 L210,207 L215,207" class="ld"/>
<path d="M191,233 L210,238.5 L215,238.5" class="ld"/>
<path d="M193,269 L210,273 L215,273" class="ld"/>
<path d="M186.5,475 L208,482 L213.6,482" class="ld"/>
<path d="M44.7,443 L52,443 L75.6,452" class="ld"/>
<path d="M32.4,526 L39.6,526 L43.7,539" class="ld"/>
<path d="M66.3,599.7 L73.5,617 L79.7,617" class="ld"/>
<path d="M351,182.5 L372,189.5 L377,189.5" class="ld"/>
<path d="M355,446 L372,451 L378,451" class="ld"/>
<path d="M446.7,30.3 L455,30.3 L473,39" class="ld"/>
<path d="M446.4,76 L455,76 L470.6,84" class="ld"/>
<path d="M438.8,151 L445,151 L455.6,139.7" class="ld"/>
<path d="M584,61 L597,54.7 L602.6,54.7" class="ld"/>
<path d="M588,98.8 L597,94.4 L602.6,94.4" class="ld"/>
<path d="M661.8,55.6 L680,46.8 L687.3,46.8" class="ld"/>
<path d="M665.3,100.6 L681,92.6 L687.3,92.6" class="ld"/>
<path d="M631,190.5 L658,173.5 L665.5,173.5" class="ld"/>
<path d="M656.7,242.3 L672,232.4 L678.8,232.4" class="ld"/>
<path d="M589.7,253.8 L604,258.2 L610.8,258.2" class="ld"/>
<path d="M592,286.4 L604,290.9 L610.8,290.9" class="ld"/>
<path d="M588,320.8 L604,326 L610.8,326" class="ld"/>
<path d="M588,375.3 L604,380.2 L610.8,380.2" class="ld"/>
<path d="M592,415 L604,419.4 L610.8,419.4" class="ld"/>
<path d="M582.5,520 L604,528 L610,528" class="ld"/>
<path d="M445.8,531 L454.4,531 L463,518.9" class="ld"/>
<path d="M540,640.5 L546.25,640.5 L558.75,620" class="ld"/>
<path d="M687.4,645.4 L688.5,665 L695,665" class="ld"/>
<path d="M687.4,464.2 L694,464.2 L717.4,472" class="ld"/>
<path d="M793.6,630.6 L795.3,650.6 L803.5,650.6" class="ld"/>
<path d="M846.7,496.1 L870,503.2 L876.2,503.2" class="ld"/>
<path d="M918.8,35.4 L925,35.4 L947,43" class="ld"/>
<path d="M1004.7,60.6 L1027,53.5 L1034,53.5" class="ld"/>
<path d="M918.8,103 L925,103 L934.8,106.5" class="ld"/>
<path d="M1015.8,119.4 L1027,113.5 L1033,113.5" class="ld"/>
<path d="M918.8,131.2 L925,131.2 L941.9,138.2" class="ld"/>
<path d="M1011,155.9 L1027,150 L1033,150" class="ld"/>
<path d="M921.3,285.3 L927,285.3 L947.6,279.4" class="ld"/>
<path d="M1004.6,316.5 L1017,320 L1024.6,320" class="ld"/>
<path d="M920.7,322.8 L927,322.8 L943.5,317.6" class="ld"/>
<path d="M1011,354.8 L1018,357 L1024.6,357" class="ld"/>
<path d="M920.7,354 L927,354 L945.8,348.2" class="ld"/>
<path d="M1007.7,386.3 L1018,388.7 L1024.6,388.7" class="ld"/>
<text x="218.2" y="68" text-anchor="start">11</text>
<text x="218.2" y="104" text-anchor="start">10</text>
<text x="217.2" y="147" text-anchor="start">9</text>
<text x="217.2" y="181" text-anchor="start">8</text>
<text x="217.2" y="210" text-anchor="start">7</text>
<text x="217.2" y="241.5" text-anchor="start">6</text>
<text x="217.2" y="276" text-anchor="start">5</text>
<text x="216.2" y="486" text-anchor="start">4</text>
<text x="34.6" y="445.7" text-anchor="start">1</text>
<text x="23.2" y="529" text-anchor="start">2</text>
<text x="82.0" y="619.3" text-anchor="start">2</text>
<text x="381.2" y="192.6" text-anchor="start">12</text>
<text x="381.2" y="453.6" text-anchor="start">13</text>
<text x="426.5" y="33" text-anchor="start">24</text>
<text x="426.5" y="79.7" text-anchor="start">23</text>
<text x="420.2" y="153.8" text-anchor="start">30</text>
<text x="605.9000000000001" y="58.2" text-anchor="start">22</text>
<text x="605.9000000000001" y="97.6" text-anchor="start">21</text>
<text x="691.2" y="50.3" text-anchor="start">24</text>
<text x="691.2" y="95.3" text-anchor="start">23</text>
<text x="666.5" y="176" text-anchor="start">20</text>
<text x="681.2" y="235.7" text-anchor="start">30</text>
<text x="615.2" y="260.9" text-anchor="start">19</text>
<text x="615.2" y="292.6" text-anchor="start">17</text>
<text x="615.2" y="328" text-anchor="start">18</text>
<text x="615.2" y="382.3" text-anchor="start">18</text>
<text x="615.2" y="421.1" text-anchor="start">17</text>
<text x="614.2" y="531.25" text-anchor="start">16</text>
<text x="426.5" y="534.2" text-anchor="start">30</text>
<text x="522.2" y="645" text-anchor="start">15</text>
<text x="698.8000000000001" y="667.5" text-anchor="start">30</text>
<text x="678.6" y="466.8" text-anchor="start">1</text>
<text x="805.1" y="653.6" text-anchor="start">2</text>
<text x="879.8000000000001" y="506.7" text-anchor="start">14</text>
<text x="908.6" y="39.4" text-anchor="start">3</text>
<text x="1036.8" y="57.8" text-anchor="start">3</text>
<text x="901.1" y="107.2" text-anchor="start">29</text>
<text x="1036.2" y="118.2" text-anchor="start">29</text>
<text x="901.1" y="135.2" text-anchor="start">27</text>
<text x="1036.2" y="153.5" text-anchor="start">27</text>
<text x="902.2" y="288.8" text-anchor="start">28</text>
<text x="1026.2" y="322.3" text-anchor="start">28</text>
<text x="902.7" y="326.3" text-anchor="start">27</text>
<text x="1026.2" y="360.7" text-anchor="start">27</text>
<text x="902.7" y="357.6" text-anchor="start">26</text>
<text x="1026.2" y="392.4" text-anchor="start">26</text>
<text x="968.6" y="432.2" text-anchor="start">25</text>
<text x="0" y="0" transform="translate(18.3,665.8) rotate(-90) scale(0.85,1)" style="font-size:11.2px;font-weight:normal;fill:#4169c0;stroke:#4169c0;stroke-width:0.3px;letter-spacing:0">TM0016</text>
</svg>
</body></html>
